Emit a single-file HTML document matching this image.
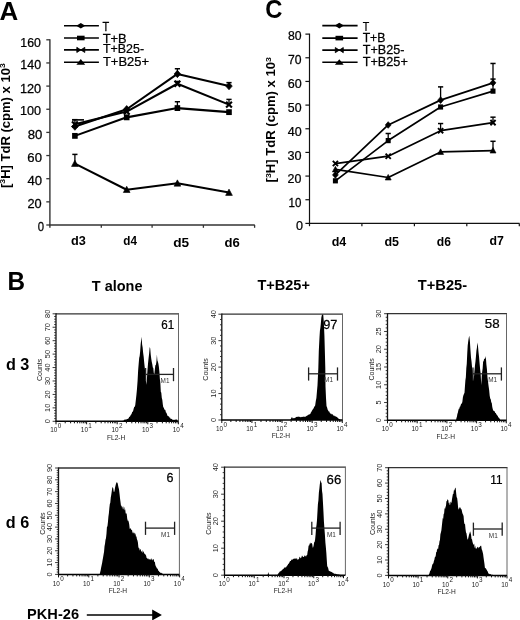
<!DOCTYPE html>
<html><head><meta charset="utf-8"><style>
html,body{margin:0;padding:0;background:#fff;}
svg{display:block;will-change:transform;}
text{font-family:"Liberation Sans", sans-serif;}
</style></head><body>
<svg width="520" height="620" viewBox="0 0 520 620">
<rect width="520" height="620" fill="#fff"/>
<text transform="translate(-0.385,19.825) scale(1.0368,1)" font-size="25" font-weight="bold" fill="#000">A</text>
<text transform="translate(265.241,17.660) scale(0.9504,1)" font-size="25" font-weight="bold" fill="#000">C</text>
<text transform="translate(7.408,289.825) scale(0.9720,1)" font-size="25" font-weight="bold" fill="#000">B</text>
<line x1="49.90" y1="39.20" x2="49.90" y2="227.80" stroke="#333" stroke-width="1.4" />
<line x1="49.20" y1="225.00" x2="254.80" y2="225.00" stroke="#333" stroke-width="1.5" />
<line x1="46.30" y1="225.00" x2="49.90" y2="225.00" stroke="#333" stroke-width="1.3" />
<line x1="46.30" y1="201.85" x2="49.90" y2="201.85" stroke="#333" stroke-width="1.3" />
<line x1="46.30" y1="178.70" x2="49.90" y2="178.70" stroke="#333" stroke-width="1.3" />
<line x1="46.30" y1="155.55" x2="49.90" y2="155.55" stroke="#333" stroke-width="1.3" />
<line x1="46.30" y1="132.40" x2="49.90" y2="132.40" stroke="#333" stroke-width="1.3" />
<line x1="46.30" y1="109.25" x2="49.90" y2="109.25" stroke="#333" stroke-width="1.3" />
<line x1="46.30" y1="86.10" x2="49.90" y2="86.10" stroke="#333" stroke-width="1.3" />
<line x1="46.30" y1="62.95" x2="49.90" y2="62.95" stroke="#333" stroke-width="1.3" />
<line x1="46.30" y1="39.80" x2="49.90" y2="39.80" stroke="#333" stroke-width="1.3" />
<line x1="101.30" y1="225.00" x2="101.30" y2="227.80" stroke="#333" stroke-width="1.3" />
<line x1="152.10" y1="225.00" x2="152.10" y2="227.80" stroke="#333" stroke-width="1.3" />
<line x1="203.40" y1="225.00" x2="203.40" y2="227.80" stroke="#333" stroke-width="1.3" />
<line x1="254.60" y1="225.00" x2="254.60" y2="227.80" stroke="#333" stroke-width="1.3" />
<text transform="translate(20.308,46.737) scale(0.9855,1)" font-size="12.5" font-weight="normal" fill="#000" stroke="#000" stroke-width="0.25">160</text>
<text transform="translate(20.323,69.291) scale(0.9961,1)" font-size="12.5" font-weight="normal" fill="#000" stroke="#000" stroke-width="0.25">140</text>
<text transform="translate(19.893,93.192) scale(1.0237,1)" font-size="12.5" font-weight="normal" fill="#000" stroke="#000" stroke-width="0.25">120</text>
<text transform="translate(20.047,115.017) scale(1.0112,1)" font-size="12.5" font-weight="normal" fill="#000" stroke="#000" stroke-width="0.25">100</text>
<text transform="translate(27.714,139.018) scale(1.0536,1)" font-size="12.5" font-weight="normal" fill="#000" stroke="#000" stroke-width="0.25">80</text>
<text transform="translate(27.331,161.939) scale(1.0508,1)" font-size="12.5" font-weight="normal" fill="#000" stroke="#000" stroke-width="0.25">60</text>
<text transform="translate(27.434,184.758) scale(1.0536,1)" font-size="12.5" font-weight="normal" fill="#000" stroke="#000" stroke-width="0.25">40</text>
<text transform="translate(27.420,207.668) scale(1.0244,1)" font-size="12.5" font-weight="normal" fill="#000" stroke="#000" stroke-width="0.25">20</text>
<text transform="translate(37.676,231.097) scale(0.9091,1)" font-size="12.5" font-weight="normal" fill="#000" stroke="#000" stroke-width="0.25">0</text>
<text transform="translate(9.625,188.007) rotate(-90) scale(1.0866,1)" font-size="12" font-weight="bold" fill="#000">[<tspan font-size="8" dy="-4.2">3</tspan><tspan dy="4.2">H] TdR (cpm) x 10</tspan><tspan font-size="8" dy="-4.2">3</tspan></text>
<text transform="translate(71.079,245.312) scale(1.0583,1)" font-size="12" font-weight="bold" fill="#000">d3</text>
<text transform="translate(123.338,245.459) scale(0.9768,1)" font-size="12" font-weight="bold" fill="#000">d4</text>
<text transform="translate(173.173,246.550) scale(1.1383,1)" font-size="12" font-weight="bold" fill="#000">d5</text>
<text transform="translate(224.584,246.554) scale(1.0898,1)" font-size="12" font-weight="bold" fill="#000">d6</text>
<polyline points="74.90,126.61 126.70,109.25 177.40,73.95 229.00,86.10" fill="none" stroke="#000" stroke-width="2.1" stroke-linejoin="round"/>
<polyline points="74.90,135.87 126.70,117.35 177.40,108.09 229.00,112.14" fill="none" stroke="#000" stroke-width="2.1" stroke-linejoin="round"/>
<polyline points="74.90,124.30 126.70,111.56 177.40,83.78 229.00,104.62" fill="none" stroke="#000" stroke-width="2.1" stroke-linejoin="round"/>
<polyline points="74.90,163.65 126.70,189.70 177.40,183.33 229.00,192.59" fill="none" stroke="#000" stroke-width="2.1" stroke-linejoin="round"/>
<path d="M74.90,122.92 L78.15,126.61 L74.90,130.31 L71.65,126.61 Z" fill="#000" stroke="#000" stroke-width="0.7"/>
<path d="M126.70,105.55 L129.95,109.25 L126.70,112.95 L123.45,109.25 Z" fill="#000" stroke="#000" stroke-width="0.7"/>
<line x1="177.40" y1="73.95" x2="177.40" y2="68.74" stroke="#000" stroke-width="1.3" />
<line x1="174.80" y1="68.74" x2="180.00" y2="68.74" stroke="#000" stroke-width="1.5" />
<path d="M177.40,70.25 L180.65,73.95 L177.40,77.64 L174.15,73.95 Z" fill="#000" stroke="#000" stroke-width="0.7"/>
<line x1="229.00" y1="86.10" x2="229.00" y2="82.63" stroke="#000" stroke-width="1.3" />
<line x1="226.40" y1="82.63" x2="231.60" y2="82.63" stroke="#000" stroke-width="1.5" />
<path d="M229.00,82.40 L232.25,86.10 L229.00,89.80 L225.75,86.10 Z" fill="#000" stroke="#000" stroke-width="0.7"/>
<rect x="72.10" y="132.96" width="5.60" height="5.82" fill="#000"/>
<rect x="123.90" y="114.44" width="5.60" height="5.82" fill="#000"/>
<line x1="177.40" y1="108.09" x2="177.40" y2="101.73" stroke="#000" stroke-width="1.3" />
<line x1="174.80" y1="101.73" x2="180.00" y2="101.73" stroke="#000" stroke-width="1.5" />
<rect x="174.60" y="105.18" width="5.60" height="5.82" fill="#000"/>
<rect x="226.20" y="109.23" width="5.60" height="5.82" fill="#000"/>
<line x1="74.90" y1="124.30" x2="74.90" y2="119.67" stroke="#000" stroke-width="1.3" />
<line x1="72.30" y1="119.67" x2="77.50" y2="119.67" stroke="#000" stroke-width="1.5" />
<path d="M71.99,121.39 L77.81,127.21 M71.99,127.21 L77.81,121.39" stroke="#000" stroke-width="2.13" fill="none"/>
<path d="M123.79,108.65 L129.61,114.48 M123.79,114.48 L129.61,108.65" stroke="#000" stroke-width="2.13" fill="none"/>
<line x1="177.40" y1="83.78" x2="177.40" y2="81.47" stroke="#000" stroke-width="1.3" />
<line x1="174.80" y1="81.47" x2="180.00" y2="81.47" stroke="#000" stroke-width="1.5" />
<path d="M174.49,80.87 L180.31,86.70 M174.49,86.70 L180.31,80.87" stroke="#000" stroke-width="2.13" fill="none"/>
<line x1="229.00" y1="104.62" x2="229.00" y2="99.41" stroke="#000" stroke-width="1.3" />
<line x1="226.40" y1="99.41" x2="231.60" y2="99.41" stroke="#000" stroke-width="1.5" />
<path d="M226.09,101.71 L231.91,107.53 M226.09,107.53 L231.91,101.71" stroke="#000" stroke-width="2.13" fill="none"/>
<line x1="74.90" y1="163.65" x2="74.90" y2="154.39" stroke="#000" stroke-width="1.3" />
<line x1="72.30" y1="154.39" x2="77.50" y2="154.39" stroke="#000" stroke-width="1.5" />
<path d="M74.90,160.18 L78.26,166.45 L71.54,166.45 Z" fill="#000" stroke="#000" stroke-width="0.6"/>
<path d="M126.70,186.22 L130.06,192.50 L123.34,192.50 Z" fill="#000" stroke="#000" stroke-width="0.6"/>
<path d="M177.40,179.86 L180.76,186.13 L174.04,186.13 Z" fill="#000" stroke="#000" stroke-width="0.6"/>
<path d="M229.00,189.12 L232.36,195.39 L225.64,195.39 Z" fill="#000" stroke="#000" stroke-width="0.6"/>
<line x1="72.00" y1="119.87" x2="84.00" y2="119.87" stroke="#000" stroke-width="1.6" />
<line x1="64.00" y1="25.70" x2="98.90" y2="25.70" stroke="#000" stroke-width="1.6" />
<path d="M80.80,22.90 L85.30,25.70 L80.80,28.50 L76.30,25.70 Z" fill="#000"/>
<text transform="translate(102.487,31.165) scale(0.8998,1)" font-size="12.2" font-weight="normal" fill="#000" stroke="#000" stroke-width="0.25">T</text>
<line x1="64.00" y1="38.00" x2="98.90" y2="38.00" stroke="#000" stroke-width="1.6" />
<rect x="77.00" y="35.70" width="7.6" height="4.6" fill="#000"/>
<text transform="translate(102.633,42.625) scale(1.0560,1)" font-size="12.2" font-weight="normal" fill="#000" stroke="#000" stroke-width="0.25">T+B</text>
<line x1="64.00" y1="49.90" x2="98.90" y2="49.90" stroke="#000" stroke-width="1.6" />
<path d="M76.80,47.30 L80.80,49.90 L76.80,52.50 Z M84.80,47.30 L80.80,49.90 L84.80,52.50 Z" fill="#000" stroke="#000" stroke-width="0.8"/>
<text transform="translate(103.020,53.346) scale(1.0176,1)" font-size="12.2" font-weight="normal" fill="#000" stroke="#000" stroke-width="0.25">T+B25-</text>
<line x1="64.00" y1="62.20" x2="98.90" y2="62.20" stroke="#000" stroke-width="1.6" />
<path d="M80.80,59.10 L85.20,64.70 L76.40,64.70 Z" fill="#000"/>
<text transform="translate(102.962,65.750) scale(1.0606,1)" font-size="12.2" font-weight="normal" fill="#000" stroke="#000" stroke-width="0.25">T+B25+</text>
<line x1="309.50" y1="33.62" x2="309.50" y2="226.20" stroke="#111" stroke-width="1.2" />
<line x1="308.90" y1="223.40" x2="519.60" y2="223.40" stroke="#111" stroke-width="1.4" />
<line x1="305.40" y1="223.40" x2="309.50" y2="223.40" stroke="#111" stroke-width="1.2" />
<line x1="305.40" y1="199.74" x2="309.50" y2="199.74" stroke="#111" stroke-width="1.2" />
<line x1="305.40" y1="176.08" x2="309.50" y2="176.08" stroke="#111" stroke-width="1.2" />
<line x1="305.40" y1="152.42" x2="309.50" y2="152.42" stroke="#111" stroke-width="1.2" />
<line x1="305.40" y1="128.76" x2="309.50" y2="128.76" stroke="#111" stroke-width="1.2" />
<line x1="305.40" y1="105.10" x2="309.50" y2="105.10" stroke="#111" stroke-width="1.2" />
<line x1="305.40" y1="81.44" x2="309.50" y2="81.44" stroke="#111" stroke-width="1.2" />
<line x1="305.40" y1="57.78" x2="309.50" y2="57.78" stroke="#111" stroke-width="1.2" />
<line x1="305.40" y1="34.12" x2="309.50" y2="34.12" stroke="#111" stroke-width="1.2" />
<line x1="361.90" y1="223.40" x2="361.90" y2="226.20" stroke="#111" stroke-width="1.2" />
<line x1="414.40" y1="223.40" x2="414.40" y2="226.20" stroke="#111" stroke-width="1.2" />
<line x1="466.80" y1="223.40" x2="466.80" y2="226.20" stroke="#111" stroke-width="1.2" />
<line x1="519.30" y1="223.40" x2="519.30" y2="226.20" stroke="#111" stroke-width="1.2" />
<text transform="translate(287.896,40.024) scale(0.9799,1)" font-size="12.5" font-weight="normal" fill="#000" stroke="#000" stroke-width="0.25">80</text>
<text transform="translate(287.999,63.834) scale(0.9755,1)" font-size="12.5" font-weight="normal" fill="#000" stroke="#000" stroke-width="0.25">70</text>
<text transform="translate(287.695,87.867) scale(1.0037,1)" font-size="12.5" font-weight="normal" fill="#000" stroke="#000" stroke-width="0.25">60</text>
<text transform="translate(287.759,112.148) scale(0.9895,1)" font-size="12.5" font-weight="normal" fill="#000" stroke="#000" stroke-width="0.25">50</text>
<text transform="translate(287.707,136.166) scale(1.0033,1)" font-size="12.5" font-weight="normal" fill="#000" stroke="#000" stroke-width="0.25">40</text>
<text transform="translate(287.581,159.675) scale(1.0117,1)" font-size="12.5" font-weight="normal" fill="#000" stroke="#000" stroke-width="0.25">30</text>
<text transform="translate(287.576,183.177) scale(0.9935,1)" font-size="12.5" font-weight="normal" fill="#000" stroke="#000" stroke-width="0.25">20</text>
<text transform="translate(288.611,206.849) scale(0.9223,1)" font-size="12.5" font-weight="normal" fill="#000" stroke="#000" stroke-width="0.25">10</text>
<text transform="translate(296.109,230.001) scale(1.0074,1)" font-size="12.5" font-weight="normal" fill="#000" stroke="#000" stroke-width="0.25">0</text>
<text transform="translate(275.333,182.438) rotate(-90) scale(1.0911,1)" font-size="12" font-weight="bold" fill="#000">[<tspan font-size="8" dy="-4.2">3</tspan><tspan dy="4.2">H] TdR (cpm) x 10</tspan><tspan font-size="8" dy="-4.2">3</tspan></text>
<text transform="translate(331.695,245.550) scale(1.0403,1)" font-size="12" font-weight="bold" fill="#000">d4</text>
<text transform="translate(384.397,245.550) scale(1.0397,1)" font-size="12" font-weight="bold" fill="#000">d5</text>
<text transform="translate(436.803,245.550) scale(1.0107,1)" font-size="12" font-weight="bold" fill="#000">d6</text>
<text transform="translate(489.444,244.550) scale(1.0248,1)" font-size="12" font-weight="bold" fill="#000">d7</text>
<polyline points="335.40,174.90 388.20,124.97 440.60,100.13 493.00,82.86" fill="none" stroke="#000" stroke-width="1.7" stroke-linejoin="round"/>
<polyline points="335.40,180.81 388.20,140.59 440.60,106.99 493.00,91.14" fill="none" stroke="#000" stroke-width="1.7" stroke-linejoin="round"/>
<polyline points="335.40,163.54 388.20,156.21 440.60,130.65 493.00,122.61" fill="none" stroke="#000" stroke-width="1.7" stroke-linejoin="round"/>
<polyline points="335.40,169.46 388.20,177.50 440.60,151.95 493.00,150.53" fill="none" stroke="#000" stroke-width="1.7" stroke-linejoin="round"/>
<path d="M335.40,171.60 L338.30,174.90 L335.40,178.20 L332.50,174.90 Z" fill="#000" stroke="#000" stroke-width="0.7"/>
<path d="M388.20,121.67 L391.10,124.97 L388.20,128.27 L385.30,124.97 Z" fill="#000" stroke="#000" stroke-width="0.7"/>
<line x1="440.60" y1="100.13" x2="440.60" y2="86.88" stroke="#000" stroke-width="1.3" />
<line x1="438.00" y1="86.88" x2="443.20" y2="86.88" stroke="#000" stroke-width="1.5" />
<path d="M440.60,96.83 L443.50,100.13 L440.60,103.43 L437.70,100.13 Z" fill="#000" stroke="#000" stroke-width="0.7"/>
<line x1="493.00" y1="82.86" x2="493.00" y2="63.46" stroke="#000" stroke-width="1.3" />
<line x1="490.40" y1="63.46" x2="495.60" y2="63.46" stroke="#000" stroke-width="1.5" />
<path d="M493.00,79.56 L495.90,82.86 L493.00,86.16 L490.10,82.86 Z" fill="#000" stroke="#000" stroke-width="0.7"/>
<rect x="332.90" y="178.21" width="5.00" height="5.20" fill="#000"/>
<line x1="388.20" y1="140.59" x2="388.20" y2="133.49" stroke="#000" stroke-width="1.3" />
<line x1="385.60" y1="133.49" x2="390.80" y2="133.49" stroke="#000" stroke-width="1.5" />
<rect x="385.70" y="137.99" width="5.00" height="5.20" fill="#000"/>
<rect x="438.10" y="104.39" width="5.00" height="5.20" fill="#000"/>
<line x1="493.00" y1="91.14" x2="493.00" y2="79.07" stroke="#000" stroke-width="1.3" />
<line x1="490.40" y1="79.07" x2="495.60" y2="79.07" stroke="#000" stroke-width="1.5" />
<rect x="490.50" y="88.54" width="5.00" height="5.20" fill="#000"/>
<path d="M332.80,160.94 L338.00,166.14 M332.80,166.14 L338.00,160.94" stroke="#000" stroke-width="1.90" fill="none"/>
<path d="M385.60,153.61 L390.80,158.81 M385.60,158.81 L390.80,153.61" stroke="#000" stroke-width="1.90" fill="none"/>
<line x1="440.60" y1="130.65" x2="440.60" y2="123.55" stroke="#000" stroke-width="1.3" />
<line x1="438.00" y1="123.55" x2="443.20" y2="123.55" stroke="#000" stroke-width="1.5" />
<path d="M438.00,128.05 L443.20,133.25 M438.00,133.25 L443.20,128.05" stroke="#000" stroke-width="1.90" fill="none"/>
<line x1="493.00" y1="122.61" x2="493.00" y2="117.17" stroke="#000" stroke-width="1.3" />
<line x1="490.40" y1="117.17" x2="495.60" y2="117.17" stroke="#000" stroke-width="1.5" />
<path d="M490.40,120.01 L495.60,125.21 M490.40,125.21 L495.60,120.01" stroke="#000" stroke-width="1.90" fill="none"/>
<path d="M335.40,166.36 L338.40,171.96 L332.40,171.96 Z" fill="#000" stroke="#000" stroke-width="0.6"/>
<path d="M388.20,174.40 L391.20,180.00 L385.20,180.00 Z" fill="#000" stroke="#000" stroke-width="0.6"/>
<path d="M440.60,148.85 L443.60,154.45 L437.60,154.45 Z" fill="#000" stroke="#000" stroke-width="0.6"/>
<line x1="493.00" y1="150.53" x2="493.00" y2="141.30" stroke="#000" stroke-width="1.3" />
<line x1="490.40" y1="141.30" x2="495.60" y2="141.30" stroke="#000" stroke-width="1.5" />
<path d="M493.00,147.43 L496.00,153.03 L490.00,153.03 Z" fill="#000" stroke="#000" stroke-width="0.6"/>
<line x1="322.30" y1="25.60" x2="357.60" y2="25.60" stroke="#000" stroke-width="1.6" />
<path d="M339.30,22.80 L343.80,25.60 L339.30,28.40 L334.80,25.60 Z" fill="#000"/>
<text transform="translate(362.698,31.280) scale(0.8705,1)" font-size="12.2" font-weight="normal" fill="#000" stroke="#000" stroke-width="0.25">T</text>
<line x1="322.30" y1="38.10" x2="357.60" y2="38.10" stroke="#000" stroke-width="1.6" />
<rect x="335.50" y="35.80" width="7.6" height="4.6" fill="#000"/>
<text transform="translate(362.645,42.401) scale(1.0008,1)" font-size="12.2" font-weight="normal" fill="#000" stroke="#000" stroke-width="0.25">T+B</text>
<line x1="322.30" y1="50.10" x2="357.60" y2="50.10" stroke="#000" stroke-width="1.6" />
<path d="M335.30,47.50 L339.30,50.10 L335.30,52.70 Z M343.30,47.50 L339.30,50.10 L343.30,52.70 Z" fill="#000" stroke="#000" stroke-width="0.8"/>
<text transform="translate(362.710,53.750) scale(1.0337,1)" font-size="12.2" font-weight="normal" fill="#000" stroke="#000" stroke-width="0.25">T+B25-</text>
<line x1="322.30" y1="62.30" x2="357.60" y2="62.30" stroke="#000" stroke-width="1.6" />
<path d="M339.30,59.20 L343.70,64.80 L334.90,64.80 Z" fill="#000"/>
<text transform="translate(362.641,66.350) scale(1.0421,1)" font-size="12.2" font-weight="normal" fill="#000" stroke="#000" stroke-width="0.25">T+B25+</text>
<text transform="translate(91.806,290.625) scale(1.0352,1)" font-size="14" font-weight="bold" fill="#000">T alone</text>
<text transform="translate(257.455,289.875) scale(1.0363,1)" font-size="14" font-weight="bold" fill="#000">T+B25+</text>
<text transform="translate(417.786,289.875) scale(1.0471,1)" font-size="14" font-weight="bold" fill="#000">T+B25-</text>
<text transform="translate(5.894,370.425) scale(1.0144,1)" font-size="16" font-weight="bold" fill="#000">d 3</text>
<text transform="translate(5.758,528.225) scale(1.0147,1)" font-size="16" font-weight="bold" fill="#000">d 6</text>
<text transform="translate(27.091,619.075) scale(1.0432,1)" font-size="14" font-weight="bold" fill="#000">PKH-26</text>
<line x1="86.80" y1="615.00" x2="153.00" y2="615.00" stroke="#000" stroke-width="1.6" />
<path d="M152.2,609.6 L161.9,615.0 L152.2,620.4 Z" fill="#000"/>
<path d="M121.80,421.30 L121.80,421.09 L122.29,421.12 L122.77,420.76 L123.26,420.75 L123.74,420.55 L124.23,419.83 L124.71,419.56 L125.20,420.12 L125.69,419.35 L126.17,419.11 L126.66,419.66 L127.14,418.91 L127.63,419.08 L128.11,418.49 L128.60,418.45 L129.12,417.04 L129.65,416.77 L130.18,416.25 L130.70,414.93 L131.22,414.42 L131.75,413.48 L132.28,411.61 L132.80,411.96 L133.30,410.31 L133.80,408.37 L134.30,406.39 L134.80,406.91 L135.30,404.63 L135.87,399.73 L136.43,394.79 L137.00,388.66 L137.57,381.02 L138.13,370.45 L138.70,363.60 L139.18,358.08 L139.67,355.94 L140.15,351.62 L140.63,344.39 L141.12,340.44 L141.60,336.67 L142.12,344.58 L142.64,347.38 L143.16,353.07 L143.68,356.68 L144.20,362.43 L144.75,367.44 L145.30,372.80 L145.85,379.24 L146.40,384.74 L146.93,378.55 L147.47,370.19 L148.00,363.72 L148.57,358.19 L149.13,353.50 L149.70,346.99 L150.22,348.49 L150.74,354.82 L151.26,358.78 L151.78,362.08 L152.30,364.28 L152.80,367.41 L153.30,367.94 L153.80,372.98 L154.30,374.49 L154.82,369.78 L155.34,365.33 L155.86,364.94 L156.38,361.92 L156.90,354.75 L157.40,360.48 L157.90,361.80 L158.40,363.64 L158.90,367.10 L159.40,371.88 L159.87,379.09 L160.33,382.58 L160.80,391.64 L161.30,392.64 L161.80,397.98 L162.30,399.83 L162.80,404.35 L163.30,407.50 L163.83,407.59 L164.35,409.77 L164.88,409.56 L165.40,410.33 L165.93,412.44 L166.45,412.71 L166.97,414.18 L167.50,415.68 L168.01,416.34 L168.52,416.16 L169.03,416.44 L169.54,417.84 L170.05,417.59 L170.56,418.71 L171.07,419.02 L171.58,418.87 L172.09,419.36 L172.60,419.82 L173.08,419.90 L173.56,419.82 L174.03,419.76 L174.51,419.78 L174.99,420.06 L175.47,419.61 L175.94,419.50 L176.42,419.75 L176.90,419.24 L177.37,419.92 L177.83,421.11 L178.30,421.30 L178.30,421.30 Z" fill="#000"/>
<line x1="56.00" y1="313.80" x2="179.00" y2="313.80" stroke="#333" stroke-width="1.3" />
<line x1="178.50" y1="313.80" x2="178.50" y2="421.30" stroke="#666" stroke-width="1.0" />
<line x1="56.00" y1="313.20" x2="56.00" y2="421.90" stroke="#111" stroke-width="1.3" />
<line x1="55.40" y1="421.30" x2="178.50" y2="421.30" stroke="#000" stroke-width="1.5" />
<line x1="52.60" y1="421.30" x2="56.00" y2="421.30" stroke="#222" stroke-width="0.9" />
<line x1="54.20" y1="418.61" x2="56.00" y2="418.61" stroke="#222" stroke-width="0.9" />
<line x1="54.20" y1="415.93" x2="56.00" y2="415.93" stroke="#222" stroke-width="0.9" />
<line x1="54.20" y1="413.24" x2="56.00" y2="413.24" stroke="#222" stroke-width="0.9" />
<line x1="54.20" y1="410.55" x2="56.00" y2="410.55" stroke="#222" stroke-width="0.9" />
<line x1="52.60" y1="407.86" x2="56.00" y2="407.86" stroke="#222" stroke-width="0.9" />
<line x1="54.20" y1="405.18" x2="56.00" y2="405.18" stroke="#222" stroke-width="0.9" />
<line x1="54.20" y1="402.49" x2="56.00" y2="402.49" stroke="#222" stroke-width="0.9" />
<line x1="54.20" y1="399.80" x2="56.00" y2="399.80" stroke="#222" stroke-width="0.9" />
<line x1="54.20" y1="397.11" x2="56.00" y2="397.11" stroke="#222" stroke-width="0.9" />
<line x1="52.60" y1="394.43" x2="56.00" y2="394.43" stroke="#222" stroke-width="0.9" />
<line x1="54.20" y1="391.74" x2="56.00" y2="391.74" stroke="#222" stroke-width="0.9" />
<line x1="54.20" y1="389.05" x2="56.00" y2="389.05" stroke="#222" stroke-width="0.9" />
<line x1="54.20" y1="386.36" x2="56.00" y2="386.36" stroke="#222" stroke-width="0.9" />
<line x1="54.20" y1="383.68" x2="56.00" y2="383.68" stroke="#222" stroke-width="0.9" />
<line x1="52.60" y1="380.99" x2="56.00" y2="380.99" stroke="#222" stroke-width="0.9" />
<line x1="54.20" y1="378.30" x2="56.00" y2="378.30" stroke="#222" stroke-width="0.9" />
<line x1="54.20" y1="375.61" x2="56.00" y2="375.61" stroke="#222" stroke-width="0.9" />
<line x1="54.20" y1="372.93" x2="56.00" y2="372.93" stroke="#222" stroke-width="0.9" />
<line x1="54.20" y1="370.24" x2="56.00" y2="370.24" stroke="#222" stroke-width="0.9" />
<line x1="52.60" y1="367.55" x2="56.00" y2="367.55" stroke="#222" stroke-width="0.9" />
<line x1="54.20" y1="364.86" x2="56.00" y2="364.86" stroke="#222" stroke-width="0.9" />
<line x1="54.20" y1="362.18" x2="56.00" y2="362.18" stroke="#222" stroke-width="0.9" />
<line x1="54.20" y1="359.49" x2="56.00" y2="359.49" stroke="#222" stroke-width="0.9" />
<line x1="54.20" y1="356.80" x2="56.00" y2="356.80" stroke="#222" stroke-width="0.9" />
<line x1="52.60" y1="354.11" x2="56.00" y2="354.11" stroke="#222" stroke-width="0.9" />
<line x1="54.20" y1="351.43" x2="56.00" y2="351.43" stroke="#222" stroke-width="0.9" />
<line x1="54.20" y1="348.74" x2="56.00" y2="348.74" stroke="#222" stroke-width="0.9" />
<line x1="54.20" y1="346.05" x2="56.00" y2="346.05" stroke="#222" stroke-width="0.9" />
<line x1="54.20" y1="343.36" x2="56.00" y2="343.36" stroke="#222" stroke-width="0.9" />
<line x1="52.60" y1="340.68" x2="56.00" y2="340.68" stroke="#222" stroke-width="0.9" />
<line x1="54.20" y1="337.99" x2="56.00" y2="337.99" stroke="#222" stroke-width="0.9" />
<line x1="54.20" y1="335.30" x2="56.00" y2="335.30" stroke="#222" stroke-width="0.9" />
<line x1="54.20" y1="332.61" x2="56.00" y2="332.61" stroke="#222" stroke-width="0.9" />
<line x1="54.20" y1="329.93" x2="56.00" y2="329.93" stroke="#222" stroke-width="0.9" />
<line x1="52.60" y1="327.24" x2="56.00" y2="327.24" stroke="#222" stroke-width="0.9" />
<line x1="54.20" y1="324.55" x2="56.00" y2="324.55" stroke="#222" stroke-width="0.9" />
<line x1="54.20" y1="321.86" x2="56.00" y2="321.86" stroke="#222" stroke-width="0.9" />
<line x1="54.20" y1="319.18" x2="56.00" y2="319.18" stroke="#222" stroke-width="0.9" />
<line x1="54.20" y1="316.49" x2="56.00" y2="316.49" stroke="#222" stroke-width="0.9" />
<line x1="52.60" y1="313.80" x2="56.00" y2="313.80" stroke="#222" stroke-width="0.9" />
<text transform="translate(49.90,421.30) rotate(-90)" font-size="7.4" text-anchor="middle" fill="#222">0</text>
<text transform="translate(49.90,407.86) rotate(-90)" font-size="7.4" text-anchor="middle" fill="#222">10</text>
<text transform="translate(49.90,394.43) rotate(-90)" font-size="7.4" text-anchor="middle" fill="#222">20</text>
<text transform="translate(49.90,380.99) rotate(-90)" font-size="7.4" text-anchor="middle" fill="#222">30</text>
<text transform="translate(49.90,367.55) rotate(-90)" font-size="7.4" text-anchor="middle" fill="#222">40</text>
<text transform="translate(49.90,354.11) rotate(-90)" font-size="7.4" text-anchor="middle" fill="#222">50</text>
<text transform="translate(49.90,340.68) rotate(-90)" font-size="7.4" text-anchor="middle" fill="#222">60</text>
<text transform="translate(49.90,327.24) rotate(-90)" font-size="7.4" text-anchor="middle" fill="#222">70</text>
<text transform="translate(49.90,313.80) rotate(-90)" font-size="7.4" text-anchor="middle" fill="#222">80</text>
<text transform="translate(42.10,369.95) rotate(-90) scale(1.1,1)" font-size="6.4" text-anchor="middle" fill="#222">Counts</text>
<line x1="56.00" y1="421.30" x2="56.00" y2="424.30" stroke="#111" stroke-width="1.0" />
<line x1="65.21" y1="421.30" x2="65.21" y2="423.30" stroke="#111" stroke-width="1.0" />
<line x1="70.60" y1="421.30" x2="70.60" y2="423.30" stroke="#111" stroke-width="1.0" />
<line x1="74.42" y1="421.30" x2="74.42" y2="423.30" stroke="#111" stroke-width="1.0" />
<line x1="77.39" y1="421.30" x2="77.39" y2="423.30" stroke="#111" stroke-width="1.0" />
<line x1="79.81" y1="421.30" x2="79.81" y2="423.30" stroke="#111" stroke-width="1.0" />
<line x1="81.86" y1="421.30" x2="81.86" y2="423.30" stroke="#111" stroke-width="1.0" />
<line x1="83.63" y1="421.30" x2="83.63" y2="423.30" stroke="#111" stroke-width="1.0" />
<line x1="85.20" y1="421.30" x2="85.20" y2="423.30" stroke="#111" stroke-width="1.0" />
<line x1="86.60" y1="421.30" x2="86.60" y2="424.30" stroke="#111" stroke-width="1.0" />
<line x1="95.81" y1="421.30" x2="95.81" y2="423.30" stroke="#111" stroke-width="1.0" />
<line x1="101.20" y1="421.30" x2="101.20" y2="423.30" stroke="#111" stroke-width="1.0" />
<line x1="105.02" y1="421.30" x2="105.02" y2="423.30" stroke="#111" stroke-width="1.0" />
<line x1="107.99" y1="421.30" x2="107.99" y2="423.30" stroke="#111" stroke-width="1.0" />
<line x1="110.41" y1="421.30" x2="110.41" y2="423.30" stroke="#111" stroke-width="1.0" />
<line x1="112.46" y1="421.30" x2="112.46" y2="423.30" stroke="#111" stroke-width="1.0" />
<line x1="114.23" y1="421.30" x2="114.23" y2="423.30" stroke="#111" stroke-width="1.0" />
<line x1="115.80" y1="421.30" x2="115.80" y2="423.30" stroke="#111" stroke-width="1.0" />
<line x1="117.20" y1="421.30" x2="117.20" y2="424.30" stroke="#111" stroke-width="1.0" />
<line x1="126.41" y1="421.30" x2="126.41" y2="423.30" stroke="#111" stroke-width="1.0" />
<line x1="131.80" y1="421.30" x2="131.80" y2="423.30" stroke="#111" stroke-width="1.0" />
<line x1="135.62" y1="421.30" x2="135.62" y2="423.30" stroke="#111" stroke-width="1.0" />
<line x1="138.59" y1="421.30" x2="138.59" y2="423.30" stroke="#111" stroke-width="1.0" />
<line x1="141.01" y1="421.30" x2="141.01" y2="423.30" stroke="#111" stroke-width="1.0" />
<line x1="143.06" y1="421.30" x2="143.06" y2="423.30" stroke="#111" stroke-width="1.0" />
<line x1="144.83" y1="421.30" x2="144.83" y2="423.30" stroke="#111" stroke-width="1.0" />
<line x1="146.40" y1="421.30" x2="146.40" y2="423.30" stroke="#111" stroke-width="1.0" />
<line x1="147.80" y1="421.30" x2="147.80" y2="424.30" stroke="#111" stroke-width="1.0" />
<line x1="157.01" y1="421.30" x2="157.01" y2="423.30" stroke="#111" stroke-width="1.0" />
<line x1="162.40" y1="421.30" x2="162.40" y2="423.30" stroke="#111" stroke-width="1.0" />
<line x1="166.22" y1="421.30" x2="166.22" y2="423.30" stroke="#111" stroke-width="1.0" />
<line x1="169.19" y1="421.30" x2="169.19" y2="423.30" stroke="#111" stroke-width="1.0" />
<line x1="171.61" y1="421.30" x2="171.61" y2="423.30" stroke="#111" stroke-width="1.0" />
<line x1="173.66" y1="421.30" x2="173.66" y2="423.30" stroke="#111" stroke-width="1.0" />
<line x1="175.43" y1="421.30" x2="175.43" y2="423.30" stroke="#111" stroke-width="1.0" />
<line x1="177.00" y1="421.30" x2="177.00" y2="423.30" stroke="#111" stroke-width="1.0" />
<line x1="178.40" y1="421.30" x2="178.40" y2="424.30" stroke="#111" stroke-width="1.0" />
<text x="53.80" y="432.40" font-size="6.4" text-anchor="middle" fill="#222">10</text>
<text x="59.50" y="428.10" font-size="6.3" text-anchor="middle" fill="#222">0</text>
<text x="84.40" y="432.40" font-size="6.4" text-anchor="middle" fill="#222">10</text>
<text x="90.10" y="428.10" font-size="6.3" text-anchor="middle" fill="#222">1</text>
<text x="115.00" y="432.40" font-size="6.4" text-anchor="middle" fill="#222">10</text>
<text x="120.70" y="428.10" font-size="6.3" text-anchor="middle" fill="#222">2</text>
<text x="145.60" y="432.40" font-size="6.4" text-anchor="middle" fill="#222">10</text>
<text x="151.30" y="428.10" font-size="6.3" text-anchor="middle" fill="#222">3</text>
<text x="176.20" y="432.40" font-size="6.4" text-anchor="middle" fill="#222">10</text>
<text x="181.90" y="428.10" font-size="6.3" text-anchor="middle" fill="#222">4</text>
<text transform="translate(116.10,439.50) scale(0.92,1)" font-size="7.2" text-anchor="middle" fill="#222">FL2-H</text>
<text transform="translate(161.367,329.082) scale(0.8927,1)" font-size="13" font-weight="normal" fill="#000" stroke="#000" stroke-width="0.25">61</text>
<line x1="145.60" y1="374.40" x2="173.50" y2="374.40" stroke="#222" stroke-width="1.3" />
<line x1="145.60" y1="368.00" x2="145.60" y2="381.20" stroke="#222" stroke-width="1.3" />
<line x1="173.50" y1="368.00" x2="173.50" y2="381.20" stroke="#222" stroke-width="1.3" />
<text x="165.05" y="383.00" font-size="6.4" text-anchor="middle" fill="#333">M1</text>
<path d="M290.20,420.00 L290.20,420.00 L290.77,419.06 L291.33,418.05 L291.90,417.10 L292.45,417.80 L293.00,418.74 L293.50,418.01 L294.00,418.05 L294.50,418.13 L295.00,417.74 L295.50,417.69 L296.00,416.97 L296.50,416.99 L297.00,416.63 L297.50,416.86 L298.00,416.92 L298.50,416.58 L299.00,416.75 L299.50,416.82 L300.00,417.27 L300.50,417.16 L301.00,416.73 L301.50,417.14 L302.00,416.68 L302.50,416.98 L303.00,416.63 L303.50,416.53 L304.00,417.09 L304.50,416.63 L305.00,416.61 L305.49,416.83 L305.98,416.46 L306.47,415.75 L306.96,415.94 L307.45,415.33 L307.95,415.14 L308.44,414.46 L308.93,414.76 L309.42,414.26 L309.91,414.20 L310.40,413.84 L310.86,412.62 L311.32,411.97 L311.78,411.07 L312.24,410.33 L312.70,409.53 L313.20,408.85 L313.70,408.28 L314.20,406.62 L314.70,406.55 L315.20,405.18 L315.80,401.05 L316.40,397.89 L316.95,391.51 L317.50,385.36 L317.90,377.05 L318.30,368.89 L318.80,350.94 L319.50,337.14 L319.93,330.59 L320.37,328.07 L320.80,324.03 L321.35,317.59 L321.90,314.99 L322.33,314.20 L322.77,314.49 L323.20,314.20 L323.80,322.11 L324.40,335.23 L324.90,353.09 L325.30,367.67 L325.50,386.41 L326.00,398.09 L326.50,406.00 L327.10,407.51 L327.70,409.84 L328.18,410.61 L328.67,411.45 L329.15,411.37 L329.63,412.57 L330.12,413.19 L330.60,413.81 L331.12,413.41 L331.64,414.49 L332.15,414.09 L332.67,414.61 L333.19,415.13 L333.71,415.67 L334.23,415.55 L334.75,416.28 L335.26,416.31 L335.78,416.46 L336.30,416.78 L336.85,417.09 L337.40,417.44 L337.95,417.89 L338.50,418.61 L339.00,419.15 L339.50,419.07 L340.00,419.40 L340.50,420.00 L340.50,420.00 Z" fill="#000"/>
<line x1="221.80" y1="314.20" x2="343.00" y2="314.20" stroke="#333" stroke-width="1.3" />
<line x1="342.50" y1="314.20" x2="342.50" y2="420.00" stroke="#666" stroke-width="1.0" />
<line x1="221.80" y1="313.60" x2="221.80" y2="420.60" stroke="#111" stroke-width="1.3" />
<line x1="221.20" y1="420.00" x2="342.50" y2="420.00" stroke="#000" stroke-width="1.5" />
<line x1="218.40" y1="420.00" x2="221.80" y2="420.00" stroke="#222" stroke-width="0.9" />
<line x1="220.00" y1="414.71" x2="221.80" y2="414.71" stroke="#222" stroke-width="0.9" />
<line x1="220.00" y1="409.42" x2="221.80" y2="409.42" stroke="#222" stroke-width="0.9" />
<line x1="220.00" y1="404.13" x2="221.80" y2="404.13" stroke="#222" stroke-width="0.9" />
<line x1="220.00" y1="398.84" x2="221.80" y2="398.84" stroke="#222" stroke-width="0.9" />
<line x1="218.40" y1="393.55" x2="221.80" y2="393.55" stroke="#222" stroke-width="0.9" />
<line x1="220.00" y1="388.26" x2="221.80" y2="388.26" stroke="#222" stroke-width="0.9" />
<line x1="220.00" y1="382.97" x2="221.80" y2="382.97" stroke="#222" stroke-width="0.9" />
<line x1="220.00" y1="377.68" x2="221.80" y2="377.68" stroke="#222" stroke-width="0.9" />
<line x1="220.00" y1="372.39" x2="221.80" y2="372.39" stroke="#222" stroke-width="0.9" />
<line x1="218.40" y1="367.10" x2="221.80" y2="367.10" stroke="#222" stroke-width="0.9" />
<line x1="220.00" y1="361.81" x2="221.80" y2="361.81" stroke="#222" stroke-width="0.9" />
<line x1="220.00" y1="356.52" x2="221.80" y2="356.52" stroke="#222" stroke-width="0.9" />
<line x1="220.00" y1="351.23" x2="221.80" y2="351.23" stroke="#222" stroke-width="0.9" />
<line x1="220.00" y1="345.94" x2="221.80" y2="345.94" stroke="#222" stroke-width="0.9" />
<line x1="218.40" y1="340.65" x2="221.80" y2="340.65" stroke="#222" stroke-width="0.9" />
<line x1="220.00" y1="335.36" x2="221.80" y2="335.36" stroke="#222" stroke-width="0.9" />
<line x1="220.00" y1="330.07" x2="221.80" y2="330.07" stroke="#222" stroke-width="0.9" />
<line x1="220.00" y1="324.78" x2="221.80" y2="324.78" stroke="#222" stroke-width="0.9" />
<line x1="220.00" y1="319.49" x2="221.80" y2="319.49" stroke="#222" stroke-width="0.9" />
<line x1="218.40" y1="314.20" x2="221.80" y2="314.20" stroke="#222" stroke-width="0.9" />
<text transform="translate(215.70,420.00) rotate(-90)" font-size="7.4" text-anchor="middle" fill="#222">0</text>
<text transform="translate(215.70,393.55) rotate(-90)" font-size="7.4" text-anchor="middle" fill="#222">10</text>
<text transform="translate(215.70,367.10) rotate(-90)" font-size="7.4" text-anchor="middle" fill="#222">20</text>
<text transform="translate(215.70,340.65) rotate(-90)" font-size="7.4" text-anchor="middle" fill="#222">30</text>
<text transform="translate(215.70,314.20) rotate(-90)" font-size="7.4" text-anchor="middle" fill="#222">40</text>
<text transform="translate(207.90,369.50) rotate(-90) scale(1.1,1)" font-size="6.4" text-anchor="middle" fill="#222">Counts</text>
<line x1="221.80" y1="420.00" x2="221.80" y2="423.00" stroke="#111" stroke-width="1.0" />
<line x1="230.87" y1="420.00" x2="230.87" y2="422.00" stroke="#111" stroke-width="1.0" />
<line x1="236.17" y1="420.00" x2="236.17" y2="422.00" stroke="#111" stroke-width="1.0" />
<line x1="239.94" y1="420.00" x2="239.94" y2="422.00" stroke="#111" stroke-width="1.0" />
<line x1="242.86" y1="420.00" x2="242.86" y2="422.00" stroke="#111" stroke-width="1.0" />
<line x1="245.24" y1="420.00" x2="245.24" y2="422.00" stroke="#111" stroke-width="1.0" />
<line x1="247.26" y1="420.00" x2="247.26" y2="422.00" stroke="#111" stroke-width="1.0" />
<line x1="249.01" y1="420.00" x2="249.01" y2="422.00" stroke="#111" stroke-width="1.0" />
<line x1="250.55" y1="420.00" x2="250.55" y2="422.00" stroke="#111" stroke-width="1.0" />
<line x1="251.93" y1="420.00" x2="251.93" y2="423.00" stroke="#111" stroke-width="1.0" />
<line x1="260.99" y1="420.00" x2="260.99" y2="422.00" stroke="#111" stroke-width="1.0" />
<line x1="266.30" y1="420.00" x2="266.30" y2="422.00" stroke="#111" stroke-width="1.0" />
<line x1="270.06" y1="420.00" x2="270.06" y2="422.00" stroke="#111" stroke-width="1.0" />
<line x1="272.98" y1="420.00" x2="272.98" y2="422.00" stroke="#111" stroke-width="1.0" />
<line x1="275.37" y1="420.00" x2="275.37" y2="422.00" stroke="#111" stroke-width="1.0" />
<line x1="277.38" y1="420.00" x2="277.38" y2="422.00" stroke="#111" stroke-width="1.0" />
<line x1="279.13" y1="420.00" x2="279.13" y2="422.00" stroke="#111" stroke-width="1.0" />
<line x1="280.67" y1="420.00" x2="280.67" y2="422.00" stroke="#111" stroke-width="1.0" />
<line x1="282.05" y1="420.00" x2="282.05" y2="423.00" stroke="#111" stroke-width="1.0" />
<line x1="291.12" y1="420.00" x2="291.12" y2="422.00" stroke="#111" stroke-width="1.0" />
<line x1="296.42" y1="420.00" x2="296.42" y2="422.00" stroke="#111" stroke-width="1.0" />
<line x1="300.19" y1="420.00" x2="300.19" y2="422.00" stroke="#111" stroke-width="1.0" />
<line x1="303.11" y1="420.00" x2="303.11" y2="422.00" stroke="#111" stroke-width="1.0" />
<line x1="305.49" y1="420.00" x2="305.49" y2="422.00" stroke="#111" stroke-width="1.0" />
<line x1="307.51" y1="420.00" x2="307.51" y2="422.00" stroke="#111" stroke-width="1.0" />
<line x1="309.26" y1="420.00" x2="309.26" y2="422.00" stroke="#111" stroke-width="1.0" />
<line x1="310.80" y1="420.00" x2="310.80" y2="422.00" stroke="#111" stroke-width="1.0" />
<line x1="312.18" y1="420.00" x2="312.18" y2="423.00" stroke="#111" stroke-width="1.0" />
<line x1="321.24" y1="420.00" x2="321.24" y2="422.00" stroke="#111" stroke-width="1.0" />
<line x1="326.55" y1="420.00" x2="326.55" y2="422.00" stroke="#111" stroke-width="1.0" />
<line x1="330.31" y1="420.00" x2="330.31" y2="422.00" stroke="#111" stroke-width="1.0" />
<line x1="333.23" y1="420.00" x2="333.23" y2="422.00" stroke="#111" stroke-width="1.0" />
<line x1="335.62" y1="420.00" x2="335.62" y2="422.00" stroke="#111" stroke-width="1.0" />
<line x1="337.63" y1="420.00" x2="337.63" y2="422.00" stroke="#111" stroke-width="1.0" />
<line x1="339.38" y1="420.00" x2="339.38" y2="422.00" stroke="#111" stroke-width="1.0" />
<line x1="340.92" y1="420.00" x2="340.92" y2="422.00" stroke="#111" stroke-width="1.0" />
<line x1="342.30" y1="420.00" x2="342.30" y2="423.00" stroke="#111" stroke-width="1.0" />
<text x="219.60" y="431.10" font-size="6.4" text-anchor="middle" fill="#222">10</text>
<text x="225.30" y="426.80" font-size="6.3" text-anchor="middle" fill="#222">0</text>
<text x="249.73" y="431.10" font-size="6.4" text-anchor="middle" fill="#222">10</text>
<text x="255.43" y="426.80" font-size="6.3" text-anchor="middle" fill="#222">1</text>
<text x="279.85" y="431.10" font-size="6.4" text-anchor="middle" fill="#222">10</text>
<text x="285.55" y="426.80" font-size="6.3" text-anchor="middle" fill="#222">2</text>
<text x="309.98" y="431.10" font-size="6.4" text-anchor="middle" fill="#222">10</text>
<text x="315.68" y="426.80" font-size="6.3" text-anchor="middle" fill="#222">3</text>
<text x="340.10" y="431.10" font-size="6.4" text-anchor="middle" fill="#222">10</text>
<text x="345.80" y="426.80" font-size="6.3" text-anchor="middle" fill="#222">4</text>
<text transform="translate(280.95,438.20) scale(0.92,1)" font-size="7.2" text-anchor="middle" fill="#222">FL2-H</text>
<text transform="translate(323.278,328.772) scale(0.9806,1)" font-size="13" font-weight="normal" fill="#000" stroke="#000" stroke-width="0.25">97</text>
<line x1="308.60" y1="373.80" x2="337.50" y2="373.80" stroke="#222" stroke-width="1.3" />
<line x1="308.60" y1="367.40" x2="308.60" y2="380.60" stroke="#222" stroke-width="1.3" />
<line x1="337.50" y1="367.40" x2="337.50" y2="380.60" stroke="#222" stroke-width="1.3" />
<text x="328.55" y="382.40" font-size="6.4" text-anchor="middle" fill="#333">M1</text>
<path d="M456.00,420.30 L456.00,420.16 L456.46,418.03 L456.92,416.64 L457.38,413.95 L457.84,412.68 L458.30,410.46 L458.80,408.86 L459.30,408.69 L459.80,406.70 L460.30,406.50 L460.80,404.65 L461.30,403.64 L461.80,403.41 L462.34,402.01 L462.88,397.52 L463.42,395.27 L463.96,394.12 L464.50,392.86 L464.95,386.21 L465.40,380.19 L465.85,377.21 L466.30,368.19 L466.77,363.73 L467.23,353.76 L467.70,345.48 L468.23,341.24 L468.77,337.87 L469.30,335.76 L469.87,340.72 L470.43,349.83 L471.00,357.56 L471.53,361.49 L472.07,367.19 L472.60,370.25 L473.00,375.24 L473.40,380.82 L473.90,377.72 L474.40,371.71 L474.95,365.76 L475.50,361.34 L475.98,355.96 L476.45,350.50 L476.92,347.63 L477.40,342.40 L477.95,345.68 L478.50,352.10 L479.05,357.00 L479.60,363.50 L480.10,368.92 L480.60,373.15 L481.30,384.92 L481.75,375.97 L482.20,371.67 L482.65,368.43 L483.10,361.41 L483.64,361.36 L484.18,358.16 L484.72,359.27 L485.26,358.26 L485.80,356.09 L486.37,364.37 L486.93,369.19 L487.50,377.78 L488.05,381.80 L488.60,386.17 L489.15,390.11 L489.70,395.84 L490.22,398.46 L490.73,399.36 L491.25,402.24 L491.77,403.11 L492.28,406.97 L492.80,409.19 L493.30,410.61 L493.80,411.05 L494.30,410.90 L494.80,411.87 L495.30,413.11 L495.80,412.93 L496.30,414.37 L496.80,414.78 L497.30,415.53 L497.80,416.10 L498.30,417.53 L498.80,417.46 L499.30,418.21 L499.80,418.97 L500.30,420.01 L500.80,419.96 L500.80,420.30 Z" fill="#000"/>
<line x1="387.50" y1="313.70" x2="507.00" y2="313.70" stroke="#333" stroke-width="1.3" />
<line x1="506.50" y1="313.70" x2="506.50" y2="420.30" stroke="#666" stroke-width="1.0" />
<line x1="387.50" y1="313.10" x2="387.50" y2="420.90" stroke="#111" stroke-width="1.3" />
<line x1="386.90" y1="420.30" x2="506.50" y2="420.30" stroke="#000" stroke-width="1.5" />
<line x1="384.10" y1="420.30" x2="387.50" y2="420.30" stroke="#222" stroke-width="0.9" />
<line x1="385.70" y1="416.75" x2="387.50" y2="416.75" stroke="#222" stroke-width="0.9" />
<line x1="385.70" y1="413.19" x2="387.50" y2="413.19" stroke="#222" stroke-width="0.9" />
<line x1="385.70" y1="409.64" x2="387.50" y2="409.64" stroke="#222" stroke-width="0.9" />
<line x1="385.70" y1="406.09" x2="387.50" y2="406.09" stroke="#222" stroke-width="0.9" />
<line x1="384.10" y1="402.53" x2="387.50" y2="402.53" stroke="#222" stroke-width="0.9" />
<line x1="385.70" y1="398.98" x2="387.50" y2="398.98" stroke="#222" stroke-width="0.9" />
<line x1="385.70" y1="395.43" x2="387.50" y2="395.43" stroke="#222" stroke-width="0.9" />
<line x1="385.70" y1="391.87" x2="387.50" y2="391.87" stroke="#222" stroke-width="0.9" />
<line x1="385.70" y1="388.32" x2="387.50" y2="388.32" stroke="#222" stroke-width="0.9" />
<line x1="384.10" y1="384.77" x2="387.50" y2="384.77" stroke="#222" stroke-width="0.9" />
<line x1="385.70" y1="381.21" x2="387.50" y2="381.21" stroke="#222" stroke-width="0.9" />
<line x1="385.70" y1="377.66" x2="387.50" y2="377.66" stroke="#222" stroke-width="0.9" />
<line x1="385.70" y1="374.11" x2="387.50" y2="374.11" stroke="#222" stroke-width="0.9" />
<line x1="385.70" y1="370.55" x2="387.50" y2="370.55" stroke="#222" stroke-width="0.9" />
<line x1="384.10" y1="367.00" x2="387.50" y2="367.00" stroke="#222" stroke-width="0.9" />
<line x1="385.70" y1="363.45" x2="387.50" y2="363.45" stroke="#222" stroke-width="0.9" />
<line x1="385.70" y1="359.89" x2="387.50" y2="359.89" stroke="#222" stroke-width="0.9" />
<line x1="385.70" y1="356.34" x2="387.50" y2="356.34" stroke="#222" stroke-width="0.9" />
<line x1="385.70" y1="352.79" x2="387.50" y2="352.79" stroke="#222" stroke-width="0.9" />
<line x1="384.10" y1="349.23" x2="387.50" y2="349.23" stroke="#222" stroke-width="0.9" />
<line x1="385.70" y1="345.68" x2="387.50" y2="345.68" stroke="#222" stroke-width="0.9" />
<line x1="385.70" y1="342.13" x2="387.50" y2="342.13" stroke="#222" stroke-width="0.9" />
<line x1="385.70" y1="338.57" x2="387.50" y2="338.57" stroke="#222" stroke-width="0.9" />
<line x1="385.70" y1="335.02" x2="387.50" y2="335.02" stroke="#222" stroke-width="0.9" />
<line x1="384.10" y1="331.47" x2="387.50" y2="331.47" stroke="#222" stroke-width="0.9" />
<line x1="385.70" y1="327.91" x2="387.50" y2="327.91" stroke="#222" stroke-width="0.9" />
<line x1="385.70" y1="324.36" x2="387.50" y2="324.36" stroke="#222" stroke-width="0.9" />
<line x1="385.70" y1="320.81" x2="387.50" y2="320.81" stroke="#222" stroke-width="0.9" />
<line x1="385.70" y1="317.25" x2="387.50" y2="317.25" stroke="#222" stroke-width="0.9" />
<line x1="384.10" y1="313.70" x2="387.50" y2="313.70" stroke="#222" stroke-width="0.9" />
<text transform="translate(381.40,420.30) rotate(-90)" font-size="7.4" text-anchor="middle" fill="#222">0</text>
<text transform="translate(381.40,402.53) rotate(-90)" font-size="7.4" text-anchor="middle" fill="#222">5</text>
<text transform="translate(381.40,384.77) rotate(-90)" font-size="7.4" text-anchor="middle" fill="#222">10</text>
<text transform="translate(381.40,367.00) rotate(-90)" font-size="7.4" text-anchor="middle" fill="#222">15</text>
<text transform="translate(381.40,349.23) rotate(-90)" font-size="7.4" text-anchor="middle" fill="#222">20</text>
<text transform="translate(381.40,331.47) rotate(-90)" font-size="7.4" text-anchor="middle" fill="#222">25</text>
<text transform="translate(381.40,313.70) rotate(-90)" font-size="7.4" text-anchor="middle" fill="#222">30</text>
<text transform="translate(373.60,369.40) rotate(-90) scale(1.1,1)" font-size="6.4" text-anchor="middle" fill="#222">Counts</text>
<line x1="387.50" y1="420.30" x2="387.50" y2="423.30" stroke="#111" stroke-width="1.0" />
<line x1="396.44" y1="420.30" x2="396.44" y2="422.30" stroke="#111" stroke-width="1.0" />
<line x1="401.67" y1="420.30" x2="401.67" y2="422.30" stroke="#111" stroke-width="1.0" />
<line x1="405.38" y1="420.30" x2="405.38" y2="422.30" stroke="#111" stroke-width="1.0" />
<line x1="408.26" y1="420.30" x2="408.26" y2="422.30" stroke="#111" stroke-width="1.0" />
<line x1="410.61" y1="420.30" x2="410.61" y2="422.30" stroke="#111" stroke-width="1.0" />
<line x1="412.60" y1="420.30" x2="412.60" y2="422.30" stroke="#111" stroke-width="1.0" />
<line x1="414.32" y1="420.30" x2="414.32" y2="422.30" stroke="#111" stroke-width="1.0" />
<line x1="415.84" y1="420.30" x2="415.84" y2="422.30" stroke="#111" stroke-width="1.0" />
<line x1="417.20" y1="420.30" x2="417.20" y2="423.30" stroke="#111" stroke-width="1.0" />
<line x1="426.14" y1="420.30" x2="426.14" y2="422.30" stroke="#111" stroke-width="1.0" />
<line x1="431.37" y1="420.30" x2="431.37" y2="422.30" stroke="#111" stroke-width="1.0" />
<line x1="435.08" y1="420.30" x2="435.08" y2="422.30" stroke="#111" stroke-width="1.0" />
<line x1="437.96" y1="420.30" x2="437.96" y2="422.30" stroke="#111" stroke-width="1.0" />
<line x1="440.31" y1="420.30" x2="440.31" y2="422.30" stroke="#111" stroke-width="1.0" />
<line x1="442.30" y1="420.30" x2="442.30" y2="422.30" stroke="#111" stroke-width="1.0" />
<line x1="444.02" y1="420.30" x2="444.02" y2="422.30" stroke="#111" stroke-width="1.0" />
<line x1="445.54" y1="420.30" x2="445.54" y2="422.30" stroke="#111" stroke-width="1.0" />
<line x1="446.90" y1="420.30" x2="446.90" y2="423.30" stroke="#111" stroke-width="1.0" />
<line x1="455.84" y1="420.30" x2="455.84" y2="422.30" stroke="#111" stroke-width="1.0" />
<line x1="461.07" y1="420.30" x2="461.07" y2="422.30" stroke="#111" stroke-width="1.0" />
<line x1="464.78" y1="420.30" x2="464.78" y2="422.30" stroke="#111" stroke-width="1.0" />
<line x1="467.66" y1="420.30" x2="467.66" y2="422.30" stroke="#111" stroke-width="1.0" />
<line x1="470.01" y1="420.30" x2="470.01" y2="422.30" stroke="#111" stroke-width="1.0" />
<line x1="472.00" y1="420.30" x2="472.00" y2="422.30" stroke="#111" stroke-width="1.0" />
<line x1="473.72" y1="420.30" x2="473.72" y2="422.30" stroke="#111" stroke-width="1.0" />
<line x1="475.24" y1="420.30" x2="475.24" y2="422.30" stroke="#111" stroke-width="1.0" />
<line x1="476.60" y1="420.30" x2="476.60" y2="423.30" stroke="#111" stroke-width="1.0" />
<line x1="485.54" y1="420.30" x2="485.54" y2="422.30" stroke="#111" stroke-width="1.0" />
<line x1="490.77" y1="420.30" x2="490.77" y2="422.30" stroke="#111" stroke-width="1.0" />
<line x1="494.48" y1="420.30" x2="494.48" y2="422.30" stroke="#111" stroke-width="1.0" />
<line x1="497.36" y1="420.30" x2="497.36" y2="422.30" stroke="#111" stroke-width="1.0" />
<line x1="499.71" y1="420.30" x2="499.71" y2="422.30" stroke="#111" stroke-width="1.0" />
<line x1="501.70" y1="420.30" x2="501.70" y2="422.30" stroke="#111" stroke-width="1.0" />
<line x1="503.42" y1="420.30" x2="503.42" y2="422.30" stroke="#111" stroke-width="1.0" />
<line x1="504.94" y1="420.30" x2="504.94" y2="422.30" stroke="#111" stroke-width="1.0" />
<line x1="506.30" y1="420.30" x2="506.30" y2="423.30" stroke="#111" stroke-width="1.0" />
<text x="385.30" y="431.40" font-size="6.4" text-anchor="middle" fill="#222">10</text>
<text x="391.00" y="427.10" font-size="6.3" text-anchor="middle" fill="#222">0</text>
<text x="415.00" y="431.40" font-size="6.4" text-anchor="middle" fill="#222">10</text>
<text x="420.70" y="427.10" font-size="6.3" text-anchor="middle" fill="#222">1</text>
<text x="444.70" y="431.40" font-size="6.4" text-anchor="middle" fill="#222">10</text>
<text x="450.40" y="427.10" font-size="6.3" text-anchor="middle" fill="#222">2</text>
<text x="474.40" y="431.40" font-size="6.4" text-anchor="middle" fill="#222">10</text>
<text x="480.10" y="427.10" font-size="6.3" text-anchor="middle" fill="#222">3</text>
<text x="504.10" y="431.40" font-size="6.4" text-anchor="middle" fill="#222">10</text>
<text x="509.80" y="427.10" font-size="6.3" text-anchor="middle" fill="#222">4</text>
<text transform="translate(445.80,438.50) scale(0.92,1)" font-size="7.2" text-anchor="middle" fill="#222">FL2-H</text>
<text transform="translate(484.823,327.667) scale(1.0251,1)" font-size="13" font-weight="normal" fill="#000" stroke="#000" stroke-width="0.25">58</text>
<line x1="473.00" y1="373.80" x2="501.40" y2="373.80" stroke="#222" stroke-width="1.3" />
<line x1="473.00" y1="367.40" x2="473.00" y2="380.60" stroke="#222" stroke-width="1.3" />
<line x1="501.40" y1="367.40" x2="501.40" y2="380.60" stroke="#222" stroke-width="1.3" />
<text x="492.70" y="382.40" font-size="6.4" text-anchor="middle" fill="#333">M1</text>
<path d="M99.70,574.40 L99.70,574.36 L100.18,572.16 L100.67,570.33 L101.15,567.45 L101.63,565.21 L102.12,563.07 L102.60,559.91 L103.08,557.41 L103.57,554.53 L104.05,551.87 L104.53,546.33 L105.02,543.77 L105.50,539.66 L105.98,538.34 L106.47,533.67 L106.95,526.87 L107.43,526.43 L107.92,522.16 L108.40,516.72 L108.88,513.19 L109.35,507.98 L109.83,504.04 L110.30,502.71 L110.77,497.60 L111.23,494.89 L111.70,491.87 L112.25,488.12 L112.80,486.96 L113.27,488.46 L113.73,491.67 L114.20,491.98 L114.63,490.23 L115.07,487.43 L115.50,485.85 L116.00,483.80 L116.50,481.86 L117.00,483.52 L117.50,482.28 L118.00,484.89 L118.50,487.60 L119.00,489.26 L119.53,493.75 L120.07,498.82 L120.60,502.78 L121.06,506.15 L121.52,505.26 L121.98,507.63 L122.44,506.37 L122.90,509.23 L123.36,509.17 L123.82,506.16 L124.28,507.38 L124.74,510.56 L125.20,509.18 L125.70,513.40 L126.20,513.24 L126.70,514.12 L127.20,518.52 L127.70,520.87 L128.20,520.60 L128.70,521.63 L129.20,524.37 L129.70,528.66 L130.17,529.03 L130.65,527.67 L131.12,529.39 L131.60,530.00 L132.09,530.20 L132.57,533.51 L133.06,531.40 L133.55,533.29 L134.04,533.20 L134.53,532.54 L135.01,535.07 L135.50,533.02 L135.97,536.77 L136.45,536.37 L136.93,539.28 L137.40,540.15 L137.88,542.32 L138.35,546.90 L138.83,548.15 L139.30,548.35 L139.79,550.66 L140.28,548.84 L140.77,549.83 L141.26,551.69 L141.75,551.40 L142.24,550.10 L142.73,553.23 L143.22,551.25 L143.71,551.79 L144.20,553.70 L144.68,553.38 L145.17,554.27 L145.65,554.67 L146.13,555.72 L146.62,557.94 L147.10,558.09 L147.59,559.01 L148.07,558.54 L148.56,558.80 L149.04,560.06 L149.53,559.02 L150.01,559.30 L150.50,560.05 L150.99,558.54 L151.47,558.55 L151.96,560.35 L152.44,560.21 L152.93,558.98 L153.41,558.92 L153.90,560.24 L154.38,562.09 L154.87,562.00 L155.35,564.88 L155.83,566.15 L156.32,567.11 L156.80,568.29 L157.28,568.50 L157.77,569.08 L158.25,570.86 L158.73,570.63 L159.22,571.79 L159.70,571.95 L160.17,572.80 L160.65,572.84 L161.12,572.83 L161.60,573.00 L162.07,573.77 L162.55,573.48 L163.03,573.90 L163.50,574.40 L163.50,574.40 Z" fill="#000"/>
<line x1="58.50" y1="468.00" x2="179.90" y2="468.00" stroke="#333" stroke-width="1.3" />
<line x1="179.40" y1="468.00" x2="179.40" y2="574.40" stroke="#666" stroke-width="1.0" />
<line x1="58.50" y1="467.40" x2="58.50" y2="575.00" stroke="#111" stroke-width="1.3" />
<line x1="57.90" y1="574.40" x2="179.40" y2="574.40" stroke="#000" stroke-width="1.5" />
<line x1="55.10" y1="574.40" x2="58.50" y2="574.40" stroke="#222" stroke-width="0.9" />
<line x1="56.70" y1="572.04" x2="58.50" y2="572.04" stroke="#222" stroke-width="0.9" />
<line x1="56.70" y1="569.67" x2="58.50" y2="569.67" stroke="#222" stroke-width="0.9" />
<line x1="56.70" y1="567.31" x2="58.50" y2="567.31" stroke="#222" stroke-width="0.9" />
<line x1="56.70" y1="564.94" x2="58.50" y2="564.94" stroke="#222" stroke-width="0.9" />
<line x1="55.10" y1="562.58" x2="58.50" y2="562.58" stroke="#222" stroke-width="0.9" />
<line x1="56.70" y1="560.21" x2="58.50" y2="560.21" stroke="#222" stroke-width="0.9" />
<line x1="56.70" y1="557.85" x2="58.50" y2="557.85" stroke="#222" stroke-width="0.9" />
<line x1="56.70" y1="555.48" x2="58.50" y2="555.48" stroke="#222" stroke-width="0.9" />
<line x1="56.70" y1="553.12" x2="58.50" y2="553.12" stroke="#222" stroke-width="0.9" />
<line x1="55.10" y1="550.76" x2="58.50" y2="550.76" stroke="#222" stroke-width="0.9" />
<line x1="56.70" y1="548.39" x2="58.50" y2="548.39" stroke="#222" stroke-width="0.9" />
<line x1="56.70" y1="546.03" x2="58.50" y2="546.03" stroke="#222" stroke-width="0.9" />
<line x1="56.70" y1="543.66" x2="58.50" y2="543.66" stroke="#222" stroke-width="0.9" />
<line x1="56.70" y1="541.30" x2="58.50" y2="541.30" stroke="#222" stroke-width="0.9" />
<line x1="55.10" y1="538.93" x2="58.50" y2="538.93" stroke="#222" stroke-width="0.9" />
<line x1="56.70" y1="536.57" x2="58.50" y2="536.57" stroke="#222" stroke-width="0.9" />
<line x1="56.70" y1="534.20" x2="58.50" y2="534.20" stroke="#222" stroke-width="0.9" />
<line x1="56.70" y1="531.84" x2="58.50" y2="531.84" stroke="#222" stroke-width="0.9" />
<line x1="56.70" y1="529.48" x2="58.50" y2="529.48" stroke="#222" stroke-width="0.9" />
<line x1="55.10" y1="527.11" x2="58.50" y2="527.11" stroke="#222" stroke-width="0.9" />
<line x1="56.70" y1="524.75" x2="58.50" y2="524.75" stroke="#222" stroke-width="0.9" />
<line x1="56.70" y1="522.38" x2="58.50" y2="522.38" stroke="#222" stroke-width="0.9" />
<line x1="56.70" y1="520.02" x2="58.50" y2="520.02" stroke="#222" stroke-width="0.9" />
<line x1="56.70" y1="517.65" x2="58.50" y2="517.65" stroke="#222" stroke-width="0.9" />
<line x1="55.10" y1="515.29" x2="58.50" y2="515.29" stroke="#222" stroke-width="0.9" />
<line x1="56.70" y1="512.92" x2="58.50" y2="512.92" stroke="#222" stroke-width="0.9" />
<line x1="56.70" y1="510.56" x2="58.50" y2="510.56" stroke="#222" stroke-width="0.9" />
<line x1="56.70" y1="508.20" x2="58.50" y2="508.20" stroke="#222" stroke-width="0.9" />
<line x1="56.70" y1="505.83" x2="58.50" y2="505.83" stroke="#222" stroke-width="0.9" />
<line x1="55.10" y1="503.47" x2="58.50" y2="503.47" stroke="#222" stroke-width="0.9" />
<line x1="56.70" y1="501.10" x2="58.50" y2="501.10" stroke="#222" stroke-width="0.9" />
<line x1="56.70" y1="498.74" x2="58.50" y2="498.74" stroke="#222" stroke-width="0.9" />
<line x1="56.70" y1="496.37" x2="58.50" y2="496.37" stroke="#222" stroke-width="0.9" />
<line x1="56.70" y1="494.01" x2="58.50" y2="494.01" stroke="#222" stroke-width="0.9" />
<line x1="55.10" y1="491.64" x2="58.50" y2="491.64" stroke="#222" stroke-width="0.9" />
<line x1="56.70" y1="489.28" x2="58.50" y2="489.28" stroke="#222" stroke-width="0.9" />
<line x1="56.70" y1="486.92" x2="58.50" y2="486.92" stroke="#222" stroke-width="0.9" />
<line x1="56.70" y1="484.55" x2="58.50" y2="484.55" stroke="#222" stroke-width="0.9" />
<line x1="56.70" y1="482.19" x2="58.50" y2="482.19" stroke="#222" stroke-width="0.9" />
<line x1="55.10" y1="479.82" x2="58.50" y2="479.82" stroke="#222" stroke-width="0.9" />
<line x1="56.70" y1="477.46" x2="58.50" y2="477.46" stroke="#222" stroke-width="0.9" />
<line x1="56.70" y1="475.09" x2="58.50" y2="475.09" stroke="#222" stroke-width="0.9" />
<line x1="56.70" y1="472.73" x2="58.50" y2="472.73" stroke="#222" stroke-width="0.9" />
<line x1="56.70" y1="470.36" x2="58.50" y2="470.36" stroke="#222" stroke-width="0.9" />
<line x1="55.10" y1="468.00" x2="58.50" y2="468.00" stroke="#222" stroke-width="0.9" />
<text transform="translate(52.40,574.40) rotate(-90)" font-size="7.4" text-anchor="middle" fill="#222">0</text>
<text transform="translate(52.40,562.58) rotate(-90)" font-size="7.4" text-anchor="middle" fill="#222">10</text>
<text transform="translate(52.40,550.76) rotate(-90)" font-size="7.4" text-anchor="middle" fill="#222">20</text>
<text transform="translate(52.40,538.93) rotate(-90)" font-size="7.4" text-anchor="middle" fill="#222">30</text>
<text transform="translate(52.40,527.11) rotate(-90)" font-size="7.4" text-anchor="middle" fill="#222">40</text>
<text transform="translate(52.40,515.29) rotate(-90)" font-size="7.4" text-anchor="middle" fill="#222">50</text>
<text transform="translate(52.40,503.47) rotate(-90)" font-size="7.4" text-anchor="middle" fill="#222">60</text>
<text transform="translate(52.40,491.64) rotate(-90)" font-size="7.4" text-anchor="middle" fill="#222">70</text>
<text transform="translate(52.40,479.82) rotate(-90)" font-size="7.4" text-anchor="middle" fill="#222">80</text>
<text transform="translate(52.40,468.00) rotate(-90)" font-size="7.4" text-anchor="middle" fill="#222">90</text>
<text transform="translate(44.60,523.60) rotate(-90) scale(1.1,1)" font-size="6.4" text-anchor="middle" fill="#222">Counts</text>
<line x1="58.50" y1="574.40" x2="58.50" y2="577.40" stroke="#111" stroke-width="1.0" />
<line x1="67.61" y1="574.40" x2="67.61" y2="576.40" stroke="#111" stroke-width="1.0" />
<line x1="72.94" y1="574.40" x2="72.94" y2="576.40" stroke="#111" stroke-width="1.0" />
<line x1="76.73" y1="574.40" x2="76.73" y2="576.40" stroke="#111" stroke-width="1.0" />
<line x1="79.66" y1="574.40" x2="79.66" y2="576.40" stroke="#111" stroke-width="1.0" />
<line x1="82.06" y1="574.40" x2="82.06" y2="576.40" stroke="#111" stroke-width="1.0" />
<line x1="84.09" y1="574.40" x2="84.09" y2="576.40" stroke="#111" stroke-width="1.0" />
<line x1="85.84" y1="574.40" x2="85.84" y2="576.40" stroke="#111" stroke-width="1.0" />
<line x1="87.39" y1="574.40" x2="87.39" y2="576.40" stroke="#111" stroke-width="1.0" />
<line x1="88.78" y1="574.40" x2="88.78" y2="577.40" stroke="#111" stroke-width="1.0" />
<line x1="97.89" y1="574.40" x2="97.89" y2="576.40" stroke="#111" stroke-width="1.0" />
<line x1="103.22" y1="574.40" x2="103.22" y2="576.40" stroke="#111" stroke-width="1.0" />
<line x1="107.00" y1="574.40" x2="107.00" y2="576.40" stroke="#111" stroke-width="1.0" />
<line x1="109.94" y1="574.40" x2="109.94" y2="576.40" stroke="#111" stroke-width="1.0" />
<line x1="112.33" y1="574.40" x2="112.33" y2="576.40" stroke="#111" stroke-width="1.0" />
<line x1="114.36" y1="574.40" x2="114.36" y2="576.40" stroke="#111" stroke-width="1.0" />
<line x1="116.12" y1="574.40" x2="116.12" y2="576.40" stroke="#111" stroke-width="1.0" />
<line x1="117.66" y1="574.40" x2="117.66" y2="576.40" stroke="#111" stroke-width="1.0" />
<line x1="119.05" y1="574.40" x2="119.05" y2="577.40" stroke="#111" stroke-width="1.0" />
<line x1="128.16" y1="574.40" x2="128.16" y2="576.40" stroke="#111" stroke-width="1.0" />
<line x1="133.49" y1="574.40" x2="133.49" y2="576.40" stroke="#111" stroke-width="1.0" />
<line x1="137.28" y1="574.40" x2="137.28" y2="576.40" stroke="#111" stroke-width="1.0" />
<line x1="140.21" y1="574.40" x2="140.21" y2="576.40" stroke="#111" stroke-width="1.0" />
<line x1="142.61" y1="574.40" x2="142.61" y2="576.40" stroke="#111" stroke-width="1.0" />
<line x1="144.64" y1="574.40" x2="144.64" y2="576.40" stroke="#111" stroke-width="1.0" />
<line x1="146.39" y1="574.40" x2="146.39" y2="576.40" stroke="#111" stroke-width="1.0" />
<line x1="147.94" y1="574.40" x2="147.94" y2="576.40" stroke="#111" stroke-width="1.0" />
<line x1="149.32" y1="574.40" x2="149.32" y2="577.40" stroke="#111" stroke-width="1.0" />
<line x1="158.44" y1="574.40" x2="158.44" y2="576.40" stroke="#111" stroke-width="1.0" />
<line x1="163.77" y1="574.40" x2="163.77" y2="576.40" stroke="#111" stroke-width="1.0" />
<line x1="167.55" y1="574.40" x2="167.55" y2="576.40" stroke="#111" stroke-width="1.0" />
<line x1="170.49" y1="574.40" x2="170.49" y2="576.40" stroke="#111" stroke-width="1.0" />
<line x1="172.88" y1="574.40" x2="172.88" y2="576.40" stroke="#111" stroke-width="1.0" />
<line x1="174.91" y1="574.40" x2="174.91" y2="576.40" stroke="#111" stroke-width="1.0" />
<line x1="176.67" y1="574.40" x2="176.67" y2="576.40" stroke="#111" stroke-width="1.0" />
<line x1="178.21" y1="574.40" x2="178.21" y2="576.40" stroke="#111" stroke-width="1.0" />
<line x1="179.60" y1="574.40" x2="179.60" y2="577.40" stroke="#111" stroke-width="1.0" />
<text x="56.30" y="585.50" font-size="6.4" text-anchor="middle" fill="#222">10</text>
<text x="62.00" y="581.20" font-size="6.3" text-anchor="middle" fill="#222">0</text>
<text x="86.58" y="585.50" font-size="6.4" text-anchor="middle" fill="#222">10</text>
<text x="92.28" y="581.20" font-size="6.3" text-anchor="middle" fill="#222">1</text>
<text x="116.85" y="585.50" font-size="6.4" text-anchor="middle" fill="#222">10</text>
<text x="122.55" y="581.20" font-size="6.3" text-anchor="middle" fill="#222">2</text>
<text x="147.12" y="585.50" font-size="6.4" text-anchor="middle" fill="#222">10</text>
<text x="152.82" y="581.20" font-size="6.3" text-anchor="middle" fill="#222">3</text>
<text x="177.40" y="585.50" font-size="6.4" text-anchor="middle" fill="#222">10</text>
<text x="183.10" y="581.20" font-size="6.3" text-anchor="middle" fill="#222">4</text>
<text transform="translate(117.95,592.60) scale(0.92,1)" font-size="7.2" text-anchor="middle" fill="#222">FL2-H</text>
<text transform="translate(166.396,481.584) scale(0.9641,1)" font-size="13" font-weight="normal" fill="#000" stroke="#000" stroke-width="0.25">6</text>
<line x1="145.50" y1="528.10" x2="174.60" y2="528.10" stroke="#222" stroke-width="1.3" />
<line x1="145.50" y1="521.70" x2="145.50" y2="534.90" stroke="#222" stroke-width="1.3" />
<line x1="174.60" y1="521.70" x2="174.60" y2="534.90" stroke="#222" stroke-width="1.3" />
<text x="165.55" y="536.70" font-size="6.4" text-anchor="middle" fill="#333">M1</text>
<path d="M267.50,575.20 L267.50,575.01 L267.90,573.63 L268.30,571.91 L268.75,573.79 L269.20,574.95 L269.69,574.98 L270.19,574.92 L270.68,574.98 L271.18,575.20 L271.67,574.90 L272.16,575.20 L272.66,574.97 L273.15,575.04 L273.64,575.15 L274.14,575.20 L274.63,575.20 L275.12,574.81 L275.62,575.02 L276.11,574.92 L276.61,575.20 L277.10,575.20 L277.55,574.74 L278.00,574.06 L278.45,573.27 L278.90,572.79 L279.42,572.25 L279.94,571.26 L280.47,571.59 L280.99,570.77 L281.51,570.74 L282.03,570.12 L282.56,569.56 L283.08,569.09 L283.60,568.80 L284.11,568.11 L284.62,567.29 L285.13,567.87 L285.64,567.34 L286.16,567.16 L286.67,566.16 L287.18,565.42 L287.69,565.27 L288.20,563.61 L288.73,563.97 L289.26,562.84 L289.79,561.61 L290.31,560.97 L290.84,560.99 L291.37,559.71 L291.90,559.50 L292.40,559.78 L292.90,559.21 L293.40,558.51 L293.90,559.30 L294.40,558.62 L294.90,558.55 L295.40,558.38 L295.90,558.72 L296.40,557.94 L296.90,559.28 L297.40,559.94 L297.90,558.50 L298.40,559.24 L298.91,559.46 L299.42,556.93 L299.93,556.86 L300.44,558.24 L300.96,558.03 L301.47,557.20 L301.98,555.61 L302.49,555.98 L303.00,556.91 L303.53,556.95 L304.06,556.73 L304.59,555.09 L305.11,556.87 L305.64,555.56 L306.17,556.49 L306.70,554.91 L307.18,554.97 L307.65,551.58 L308.12,549.69 L308.60,545.54 L309.03,545.81 L309.47,544.45 L309.90,543.26 L310.38,542.59 L310.85,544.31 L311.32,543.02 L311.80,543.10 L312.27,544.17 L312.73,547.63 L313.20,547.15 L313.68,545.16 L314.15,542.15 L314.62,542.10 L315.10,539.42 L315.58,534.75 L316.05,528.11 L316.52,525.08 L317.00,520.07 L317.47,511.64 L317.93,503.85 L318.40,500.39 L318.88,492.49 L319.35,488.81 L319.82,484.28 L320.30,481.19 L320.73,480.04 L321.17,482.55 L321.60,483.07 L322.03,491.10 L322.47,493.96 L322.90,501.44 L323.40,510.75 L323.90,521.31 L324.40,528.17 L324.90,534.80 L325.40,542.38 L325.90,547.79 L326.33,552.70 L326.77,559.64 L327.20,565.94 L327.65,567.00 L328.10,567.63 L328.55,569.65 L329.00,571.23 L329.51,570.81 L330.02,571.50 L330.53,571.53 L331.04,571.71 L331.56,572.07 L332.07,572.29 L332.58,572.75 L333.09,572.74 L333.60,573.40 L334.09,573.22 L334.59,573.97 L335.08,573.93 L335.57,573.49 L336.07,574.32 L336.56,573.90 L337.05,574.28 L337.55,574.45 L338.04,574.37 L338.53,574.45 L339.03,574.69 L339.52,574.56 L340.01,575.20 L340.51,574.77 L341.00,575.20 L341.00,575.20 Z" fill="#000"/>
<line x1="224.50" y1="467.20" x2="345.90" y2="467.20" stroke="#333" stroke-width="1.3" />
<line x1="345.40" y1="467.20" x2="345.40" y2="575.20" stroke="#666" stroke-width="1.0" />
<line x1="224.50" y1="466.60" x2="224.50" y2="575.80" stroke="#111" stroke-width="1.3" />
<line x1="223.90" y1="575.20" x2="345.40" y2="575.20" stroke="#000" stroke-width="1.5" />
<line x1="221.10" y1="575.20" x2="224.50" y2="575.20" stroke="#222" stroke-width="0.9" />
<line x1="222.70" y1="569.80" x2="224.50" y2="569.80" stroke="#222" stroke-width="0.9" />
<line x1="222.70" y1="564.40" x2="224.50" y2="564.40" stroke="#222" stroke-width="0.9" />
<line x1="222.70" y1="559.00" x2="224.50" y2="559.00" stroke="#222" stroke-width="0.9" />
<line x1="222.70" y1="553.60" x2="224.50" y2="553.60" stroke="#222" stroke-width="0.9" />
<line x1="221.10" y1="548.20" x2="224.50" y2="548.20" stroke="#222" stroke-width="0.9" />
<line x1="222.70" y1="542.80" x2="224.50" y2="542.80" stroke="#222" stroke-width="0.9" />
<line x1="222.70" y1="537.40" x2="224.50" y2="537.40" stroke="#222" stroke-width="0.9" />
<line x1="222.70" y1="532.00" x2="224.50" y2="532.00" stroke="#222" stroke-width="0.9" />
<line x1="222.70" y1="526.60" x2="224.50" y2="526.60" stroke="#222" stroke-width="0.9" />
<line x1="221.10" y1="521.20" x2="224.50" y2="521.20" stroke="#222" stroke-width="0.9" />
<line x1="222.70" y1="515.80" x2="224.50" y2="515.80" stroke="#222" stroke-width="0.9" />
<line x1="222.70" y1="510.40" x2="224.50" y2="510.40" stroke="#222" stroke-width="0.9" />
<line x1="222.70" y1="505.00" x2="224.50" y2="505.00" stroke="#222" stroke-width="0.9" />
<line x1="222.70" y1="499.60" x2="224.50" y2="499.60" stroke="#222" stroke-width="0.9" />
<line x1="221.10" y1="494.20" x2="224.50" y2="494.20" stroke="#222" stroke-width="0.9" />
<line x1="222.70" y1="488.80" x2="224.50" y2="488.80" stroke="#222" stroke-width="0.9" />
<line x1="222.70" y1="483.40" x2="224.50" y2="483.40" stroke="#222" stroke-width="0.9" />
<line x1="222.70" y1="478.00" x2="224.50" y2="478.00" stroke="#222" stroke-width="0.9" />
<line x1="222.70" y1="472.60" x2="224.50" y2="472.60" stroke="#222" stroke-width="0.9" />
<line x1="221.10" y1="467.20" x2="224.50" y2="467.20" stroke="#222" stroke-width="0.9" />
<text transform="translate(218.40,575.20) rotate(-90)" font-size="7.4" text-anchor="middle" fill="#222">0</text>
<text transform="translate(218.40,548.20) rotate(-90)" font-size="7.4" text-anchor="middle" fill="#222">10</text>
<text transform="translate(218.40,521.20) rotate(-90)" font-size="7.4" text-anchor="middle" fill="#222">20</text>
<text transform="translate(218.40,494.20) rotate(-90)" font-size="7.4" text-anchor="middle" fill="#222">30</text>
<text transform="translate(218.40,467.20) rotate(-90)" font-size="7.4" text-anchor="middle" fill="#222">40</text>
<text transform="translate(210.60,523.60) rotate(-90) scale(1.1,1)" font-size="6.4" text-anchor="middle" fill="#222">Counts</text>
<line x1="224.50" y1="575.20" x2="224.50" y2="578.20" stroke="#111" stroke-width="1.0" />
<line x1="233.46" y1="575.20" x2="233.46" y2="577.20" stroke="#111" stroke-width="1.0" />
<line x1="238.69" y1="575.20" x2="238.69" y2="577.20" stroke="#111" stroke-width="1.0" />
<line x1="242.41" y1="575.20" x2="242.41" y2="577.20" stroke="#111" stroke-width="1.0" />
<line x1="245.29" y1="575.20" x2="245.29" y2="577.20" stroke="#111" stroke-width="1.0" />
<line x1="247.65" y1="575.20" x2="247.65" y2="577.20" stroke="#111" stroke-width="1.0" />
<line x1="249.64" y1="575.20" x2="249.64" y2="577.20" stroke="#111" stroke-width="1.0" />
<line x1="251.37" y1="575.20" x2="251.37" y2="577.20" stroke="#111" stroke-width="1.0" />
<line x1="252.89" y1="575.20" x2="252.89" y2="577.20" stroke="#111" stroke-width="1.0" />
<line x1="254.25" y1="575.20" x2="254.25" y2="578.20" stroke="#111" stroke-width="1.0" />
<line x1="263.21" y1="575.20" x2="263.21" y2="577.20" stroke="#111" stroke-width="1.0" />
<line x1="268.44" y1="575.20" x2="268.44" y2="577.20" stroke="#111" stroke-width="1.0" />
<line x1="272.16" y1="575.20" x2="272.16" y2="577.20" stroke="#111" stroke-width="1.0" />
<line x1="275.04" y1="575.20" x2="275.04" y2="577.20" stroke="#111" stroke-width="1.0" />
<line x1="277.40" y1="575.20" x2="277.40" y2="577.20" stroke="#111" stroke-width="1.0" />
<line x1="279.39" y1="575.20" x2="279.39" y2="577.20" stroke="#111" stroke-width="1.0" />
<line x1="281.12" y1="575.20" x2="281.12" y2="577.20" stroke="#111" stroke-width="1.0" />
<line x1="282.64" y1="575.20" x2="282.64" y2="577.20" stroke="#111" stroke-width="1.0" />
<line x1="284.00" y1="575.20" x2="284.00" y2="578.20" stroke="#111" stroke-width="1.0" />
<line x1="292.96" y1="575.20" x2="292.96" y2="577.20" stroke="#111" stroke-width="1.0" />
<line x1="298.19" y1="575.20" x2="298.19" y2="577.20" stroke="#111" stroke-width="1.0" />
<line x1="301.91" y1="575.20" x2="301.91" y2="577.20" stroke="#111" stroke-width="1.0" />
<line x1="304.79" y1="575.20" x2="304.79" y2="577.20" stroke="#111" stroke-width="1.0" />
<line x1="307.15" y1="575.20" x2="307.15" y2="577.20" stroke="#111" stroke-width="1.0" />
<line x1="309.14" y1="575.20" x2="309.14" y2="577.20" stroke="#111" stroke-width="1.0" />
<line x1="310.87" y1="575.20" x2="310.87" y2="577.20" stroke="#111" stroke-width="1.0" />
<line x1="312.39" y1="575.20" x2="312.39" y2="577.20" stroke="#111" stroke-width="1.0" />
<line x1="313.75" y1="575.20" x2="313.75" y2="578.20" stroke="#111" stroke-width="1.0" />
<line x1="322.71" y1="575.20" x2="322.71" y2="577.20" stroke="#111" stroke-width="1.0" />
<line x1="327.94" y1="575.20" x2="327.94" y2="577.20" stroke="#111" stroke-width="1.0" />
<line x1="331.66" y1="575.20" x2="331.66" y2="577.20" stroke="#111" stroke-width="1.0" />
<line x1="334.54" y1="575.20" x2="334.54" y2="577.20" stroke="#111" stroke-width="1.0" />
<line x1="336.90" y1="575.20" x2="336.90" y2="577.20" stroke="#111" stroke-width="1.0" />
<line x1="338.89" y1="575.20" x2="338.89" y2="577.20" stroke="#111" stroke-width="1.0" />
<line x1="340.62" y1="575.20" x2="340.62" y2="577.20" stroke="#111" stroke-width="1.0" />
<line x1="342.14" y1="575.20" x2="342.14" y2="577.20" stroke="#111" stroke-width="1.0" />
<line x1="343.50" y1="575.20" x2="343.50" y2="578.20" stroke="#111" stroke-width="1.0" />
<text x="222.30" y="586.30" font-size="6.4" text-anchor="middle" fill="#222">10</text>
<text x="228.00" y="582.00" font-size="6.3" text-anchor="middle" fill="#222">0</text>
<text x="252.05" y="586.30" font-size="6.4" text-anchor="middle" fill="#222">10</text>
<text x="257.75" y="582.00" font-size="6.3" text-anchor="middle" fill="#222">1</text>
<text x="281.80" y="586.30" font-size="6.4" text-anchor="middle" fill="#222">10</text>
<text x="287.50" y="582.00" font-size="6.3" text-anchor="middle" fill="#222">2</text>
<text x="311.55" y="586.30" font-size="6.4" text-anchor="middle" fill="#222">10</text>
<text x="317.25" y="582.00" font-size="6.3" text-anchor="middle" fill="#222">3</text>
<text x="341.30" y="586.30" font-size="6.4" text-anchor="middle" fill="#222">10</text>
<text x="347.00" y="582.00" font-size="6.3" text-anchor="middle" fill="#222">4</text>
<text transform="translate(282.90,593.40) scale(0.92,1)" font-size="7.2" text-anchor="middle" fill="#222">FL2-H</text>
<text transform="translate(326.592,483.595) scale(1.0140,1)" font-size="13" font-weight="normal" fill="#000" stroke="#000" stroke-width="0.25">66</text>
<line x1="311.80" y1="528.10" x2="340.10" y2="528.10" stroke="#222" stroke-width="1.3" />
<line x1="311.80" y1="521.70" x2="311.80" y2="534.90" stroke="#222" stroke-width="1.3" />
<line x1="340.10" y1="521.70" x2="340.10" y2="534.90" stroke="#222" stroke-width="1.3" />
<text x="331.45" y="536.70" font-size="6.4" text-anchor="middle" fill="#333">M1</text>
<path d="M428.40,575.40 L428.40,575.40 L428.94,574.39 L429.48,573.29 L430.02,571.25 L430.56,570.55 L431.10,569.20 L431.57,567.92 L432.03,565.77 L432.50,564.34 L432.97,563.74 L433.43,563.24 L433.90,560.96 L434.37,559.65 L434.83,557.33 L435.30,556.90 L435.77,555.40 L436.23,551.94 L436.70,552.04 L437.18,547.96 L437.65,549.59 L438.12,548.90 L438.60,545.32 L439.05,544.64 L439.50,541.29 L439.95,540.10 L440.40,534.34 L440.88,532.41 L441.35,530.53 L441.82,526.31 L442.30,521.74 L442.75,518.05 L443.20,518.71 L443.65,514.07 L444.10,513.39 L444.58,508.12 L445.05,508.95 L445.52,507.10 L446.00,505.68 L446.45,500.90 L446.90,501.14 L447.35,498.68 L447.80,500.31 L448.27,499.89 L448.75,503.49 L449.23,502.32 L449.70,505.10 L450.15,504.77 L450.60,501.56 L451.05,502.13 L451.50,503.03 L451.98,499.21 L452.45,496.44 L452.92,493.97 L453.40,493.95 L453.88,490.20 L454.35,490.47 L454.82,488.90 L455.30,487.51 L455.75,488.59 L456.20,493.48 L456.65,497.29 L457.10,497.68 L457.60,501.43 L458.10,507.44 L458.60,509.81 L459.08,508.14 L459.55,506.64 L460.02,509.16 L460.50,507.09 L461.05,508.94 L461.60,509.54 L462.15,512.36 L462.70,514.12 L463.15,514.76 L463.60,516.15 L464.05,522.12 L464.50,524.14 L465.00,523.68 L465.50,528.96 L466.00,532.54 L466.48,533.26 L466.95,536.43 L467.42,539.19 L467.90,539.56 L468.45,537.14 L469.00,534.73 L469.55,533.33 L470.10,531.30 L470.58,532.77 L471.05,534.80 L471.52,538.94 L472.00,539.35 L472.54,541.90 L473.08,543.84 L473.62,544.88 L474.16,543.40 L474.70,548.17 L475.17,545.43 L475.63,548.21 L476.10,548.77 L476.57,548.43 L477.03,547.84 L477.50,547.02 L478.03,546.77 L478.56,548.44 L479.09,546.76 L479.61,547.53 L480.14,546.29 L480.67,545.64 L481.20,545.85 L481.68,549.26 L482.15,550.31 L482.62,551.89 L483.10,554.06 L483.55,557.49 L484.00,560.64 L484.45,563.74 L484.90,567.86 L485.38,568.30 L485.85,568.33 L486.32,569.29 L486.80,569.94 L487.27,571.00 L487.75,571.44 L488.22,573.05 L488.70,573.67 L489.20,573.69 L489.70,574.30 L490.20,573.93 L490.70,574.33 L491.20,574.80 L491.70,574.63 L492.20,574.84 L492.70,574.80 L493.20,575.40 L493.70,575.40 L494.20,575.24 L494.20,575.40 Z" fill="#000"/>
<line x1="388.50" y1="467.70" x2="507.50" y2="467.70" stroke="#333" stroke-width="1.3" />
<line x1="507.00" y1="467.70" x2="507.00" y2="575.40" stroke="#666" stroke-width="1.0" />
<line x1="388.50" y1="467.10" x2="388.50" y2="576.00" stroke="#111" stroke-width="1.3" />
<line x1="387.90" y1="575.40" x2="507.00" y2="575.40" stroke="#000" stroke-width="1.5" />
<line x1="385.10" y1="575.40" x2="388.50" y2="575.40" stroke="#222" stroke-width="0.9" />
<line x1="386.70" y1="572.32" x2="388.50" y2="572.32" stroke="#222" stroke-width="0.9" />
<line x1="386.70" y1="569.25" x2="388.50" y2="569.25" stroke="#222" stroke-width="0.9" />
<line x1="386.70" y1="566.17" x2="388.50" y2="566.17" stroke="#222" stroke-width="0.9" />
<line x1="386.70" y1="563.09" x2="388.50" y2="563.09" stroke="#222" stroke-width="0.9" />
<line x1="385.10" y1="560.01" x2="388.50" y2="560.01" stroke="#222" stroke-width="0.9" />
<line x1="386.70" y1="556.94" x2="388.50" y2="556.94" stroke="#222" stroke-width="0.9" />
<line x1="386.70" y1="553.86" x2="388.50" y2="553.86" stroke="#222" stroke-width="0.9" />
<line x1="386.70" y1="550.78" x2="388.50" y2="550.78" stroke="#222" stroke-width="0.9" />
<line x1="386.70" y1="547.71" x2="388.50" y2="547.71" stroke="#222" stroke-width="0.9" />
<line x1="385.10" y1="544.63" x2="388.50" y2="544.63" stroke="#222" stroke-width="0.9" />
<line x1="386.70" y1="541.55" x2="388.50" y2="541.55" stroke="#222" stroke-width="0.9" />
<line x1="386.70" y1="538.47" x2="388.50" y2="538.47" stroke="#222" stroke-width="0.9" />
<line x1="386.70" y1="535.40" x2="388.50" y2="535.40" stroke="#222" stroke-width="0.9" />
<line x1="386.70" y1="532.32" x2="388.50" y2="532.32" stroke="#222" stroke-width="0.9" />
<line x1="385.10" y1="529.24" x2="388.50" y2="529.24" stroke="#222" stroke-width="0.9" />
<line x1="386.70" y1="526.17" x2="388.50" y2="526.17" stroke="#222" stroke-width="0.9" />
<line x1="386.70" y1="523.09" x2="388.50" y2="523.09" stroke="#222" stroke-width="0.9" />
<line x1="386.70" y1="520.01" x2="388.50" y2="520.01" stroke="#222" stroke-width="0.9" />
<line x1="386.70" y1="516.93" x2="388.50" y2="516.93" stroke="#222" stroke-width="0.9" />
<line x1="385.10" y1="513.86" x2="388.50" y2="513.86" stroke="#222" stroke-width="0.9" />
<line x1="386.70" y1="510.78" x2="388.50" y2="510.78" stroke="#222" stroke-width="0.9" />
<line x1="386.70" y1="507.70" x2="388.50" y2="507.70" stroke="#222" stroke-width="0.9" />
<line x1="386.70" y1="504.63" x2="388.50" y2="504.63" stroke="#222" stroke-width="0.9" />
<line x1="386.70" y1="501.55" x2="388.50" y2="501.55" stroke="#222" stroke-width="0.9" />
<line x1="385.10" y1="498.47" x2="388.50" y2="498.47" stroke="#222" stroke-width="0.9" />
<line x1="386.70" y1="495.39" x2="388.50" y2="495.39" stroke="#222" stroke-width="0.9" />
<line x1="386.70" y1="492.32" x2="388.50" y2="492.32" stroke="#222" stroke-width="0.9" />
<line x1="386.70" y1="489.24" x2="388.50" y2="489.24" stroke="#222" stroke-width="0.9" />
<line x1="386.70" y1="486.16" x2="388.50" y2="486.16" stroke="#222" stroke-width="0.9" />
<line x1="385.10" y1="483.09" x2="388.50" y2="483.09" stroke="#222" stroke-width="0.9" />
<line x1="386.70" y1="480.01" x2="388.50" y2="480.01" stroke="#222" stroke-width="0.9" />
<line x1="386.70" y1="476.93" x2="388.50" y2="476.93" stroke="#222" stroke-width="0.9" />
<line x1="386.70" y1="473.85" x2="388.50" y2="473.85" stroke="#222" stroke-width="0.9" />
<line x1="386.70" y1="470.78" x2="388.50" y2="470.78" stroke="#222" stroke-width="0.9" />
<line x1="385.10" y1="467.70" x2="388.50" y2="467.70" stroke="#222" stroke-width="0.9" />
<text transform="translate(382.40,575.40) rotate(-90)" font-size="7.4" text-anchor="middle" fill="#222">0</text>
<text transform="translate(382.40,560.01) rotate(-90)" font-size="7.4" text-anchor="middle" fill="#222">10</text>
<text transform="translate(382.40,544.63) rotate(-90)" font-size="7.4" text-anchor="middle" fill="#222">20</text>
<text transform="translate(382.40,529.24) rotate(-90)" font-size="7.4" text-anchor="middle" fill="#222">30</text>
<text transform="translate(382.40,513.86) rotate(-90)" font-size="7.4" text-anchor="middle" fill="#222">40</text>
<text transform="translate(382.40,498.47) rotate(-90)" font-size="7.4" text-anchor="middle" fill="#222">50</text>
<text transform="translate(382.40,483.09) rotate(-90)" font-size="7.4" text-anchor="middle" fill="#222">60</text>
<text transform="translate(382.40,467.70) rotate(-90)" font-size="7.4" text-anchor="middle" fill="#222">70</text>
<text transform="translate(374.60,523.95) rotate(-90) scale(1.1,1)" font-size="6.4" text-anchor="middle" fill="#222">Counts</text>
<line x1="388.50" y1="575.40" x2="388.50" y2="578.40" stroke="#111" stroke-width="1.0" />
<line x1="397.42" y1="575.40" x2="397.42" y2="577.40" stroke="#111" stroke-width="1.0" />
<line x1="402.63" y1="575.40" x2="402.63" y2="577.40" stroke="#111" stroke-width="1.0" />
<line x1="406.34" y1="575.40" x2="406.34" y2="577.40" stroke="#111" stroke-width="1.0" />
<line x1="409.21" y1="575.40" x2="409.21" y2="577.40" stroke="#111" stroke-width="1.0" />
<line x1="411.55" y1="575.40" x2="411.55" y2="577.40" stroke="#111" stroke-width="1.0" />
<line x1="413.54" y1="575.40" x2="413.54" y2="577.40" stroke="#111" stroke-width="1.0" />
<line x1="415.25" y1="575.40" x2="415.25" y2="577.40" stroke="#111" stroke-width="1.0" />
<line x1="416.77" y1="575.40" x2="416.77" y2="577.40" stroke="#111" stroke-width="1.0" />
<line x1="418.12" y1="575.40" x2="418.12" y2="578.40" stroke="#111" stroke-width="1.0" />
<line x1="427.04" y1="575.40" x2="427.04" y2="577.40" stroke="#111" stroke-width="1.0" />
<line x1="432.26" y1="575.40" x2="432.26" y2="577.40" stroke="#111" stroke-width="1.0" />
<line x1="435.96" y1="575.40" x2="435.96" y2="577.40" stroke="#111" stroke-width="1.0" />
<line x1="438.83" y1="575.40" x2="438.83" y2="577.40" stroke="#111" stroke-width="1.0" />
<line x1="441.18" y1="575.40" x2="441.18" y2="577.40" stroke="#111" stroke-width="1.0" />
<line x1="443.16" y1="575.40" x2="443.16" y2="577.40" stroke="#111" stroke-width="1.0" />
<line x1="444.88" y1="575.40" x2="444.88" y2="577.40" stroke="#111" stroke-width="1.0" />
<line x1="446.39" y1="575.40" x2="446.39" y2="577.40" stroke="#111" stroke-width="1.0" />
<line x1="447.75" y1="575.40" x2="447.75" y2="578.40" stroke="#111" stroke-width="1.0" />
<line x1="456.67" y1="575.40" x2="456.67" y2="577.40" stroke="#111" stroke-width="1.0" />
<line x1="461.88" y1="575.40" x2="461.88" y2="577.40" stroke="#111" stroke-width="1.0" />
<line x1="465.59" y1="575.40" x2="465.59" y2="577.40" stroke="#111" stroke-width="1.0" />
<line x1="468.46" y1="575.40" x2="468.46" y2="577.40" stroke="#111" stroke-width="1.0" />
<line x1="470.80" y1="575.40" x2="470.80" y2="577.40" stroke="#111" stroke-width="1.0" />
<line x1="472.79" y1="575.40" x2="472.79" y2="577.40" stroke="#111" stroke-width="1.0" />
<line x1="474.50" y1="575.40" x2="474.50" y2="577.40" stroke="#111" stroke-width="1.0" />
<line x1="476.02" y1="575.40" x2="476.02" y2="577.40" stroke="#111" stroke-width="1.0" />
<line x1="477.38" y1="575.40" x2="477.38" y2="578.40" stroke="#111" stroke-width="1.0" />
<line x1="486.29" y1="575.40" x2="486.29" y2="577.40" stroke="#111" stroke-width="1.0" />
<line x1="491.51" y1="575.40" x2="491.51" y2="577.40" stroke="#111" stroke-width="1.0" />
<line x1="495.21" y1="575.40" x2="495.21" y2="577.40" stroke="#111" stroke-width="1.0" />
<line x1="498.08" y1="575.40" x2="498.08" y2="577.40" stroke="#111" stroke-width="1.0" />
<line x1="500.43" y1="575.40" x2="500.43" y2="577.40" stroke="#111" stroke-width="1.0" />
<line x1="502.41" y1="575.40" x2="502.41" y2="577.40" stroke="#111" stroke-width="1.0" />
<line x1="504.13" y1="575.40" x2="504.13" y2="577.40" stroke="#111" stroke-width="1.0" />
<line x1="505.64" y1="575.40" x2="505.64" y2="577.40" stroke="#111" stroke-width="1.0" />
<line x1="507.00" y1="575.40" x2="507.00" y2="578.40" stroke="#111" stroke-width="1.0" />
<text x="386.30" y="586.50" font-size="6.4" text-anchor="middle" fill="#222">10</text>
<text x="392.00" y="582.20" font-size="6.3" text-anchor="middle" fill="#222">0</text>
<text x="415.93" y="586.50" font-size="6.4" text-anchor="middle" fill="#222">10</text>
<text x="421.62" y="582.20" font-size="6.3" text-anchor="middle" fill="#222">1</text>
<text x="445.55" y="586.50" font-size="6.4" text-anchor="middle" fill="#222">10</text>
<text x="451.25" y="582.20" font-size="6.3" text-anchor="middle" fill="#222">2</text>
<text x="475.18" y="586.50" font-size="6.4" text-anchor="middle" fill="#222">10</text>
<text x="480.88" y="582.20" font-size="6.3" text-anchor="middle" fill="#222">3</text>
<text x="504.80" y="586.50" font-size="6.4" text-anchor="middle" fill="#222">10</text>
<text x="510.50" y="582.20" font-size="6.3" text-anchor="middle" fill="#222">4</text>
<text transform="translate(446.65,593.60) scale(0.92,1)" font-size="7.2" text-anchor="middle" fill="#222">FL2-H</text>
<text transform="translate(490.300,484.133) scale(0.9038,1)" font-size="13" font-weight="normal" fill="#000" stroke="#000" stroke-width="0.25">11</text>
<line x1="473.40" y1="529.00" x2="502.20" y2="529.00" stroke="#222" stroke-width="1.3" />
<line x1="473.40" y1="522.60" x2="473.40" y2="535.80" stroke="#222" stroke-width="1.3" />
<line x1="502.20" y1="522.60" x2="502.20" y2="535.80" stroke="#222" stroke-width="1.3" />
<text x="493.30" y="537.60" font-size="6.4" text-anchor="middle" fill="#333">M1</text>
</svg>
</body></html>
